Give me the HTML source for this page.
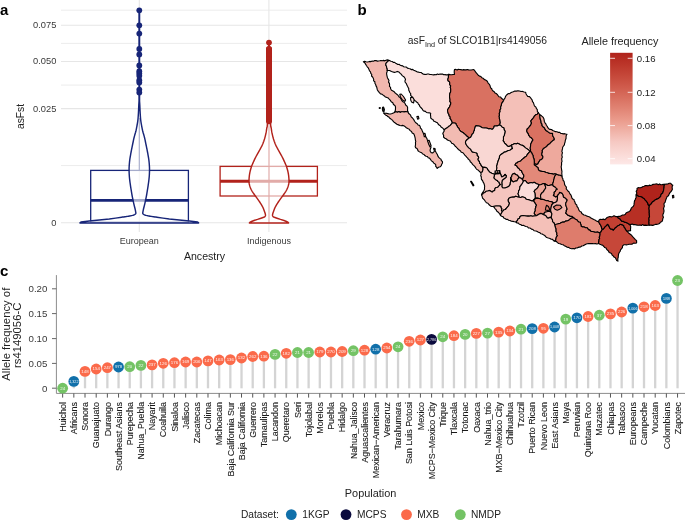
<!DOCTYPE html>
<html><head><meta charset="utf-8"><style>
html,body{margin:0;padding:0;background:#fff;width:685px;height:521px;overflow:hidden}
svg{display:block;font-family:"Liberation Sans",sans-serif;will-change:transform}
</style></head><body>
<svg width="685" height="521" viewBox="0 0 685 521">
<line x1="61" y1="10.2" x2="347" y2="10.2" stroke="#ececec" stroke-width="1"/>
<line x1="61" y1="43.4" x2="347" y2="43.4" stroke="#ececec" stroke-width="1"/>
<line x1="61" y1="85.1" x2="347" y2="85.1" stroke="#ececec" stroke-width="1"/>
<line x1="61" y1="165.6" x2="347" y2="165.6" stroke="#ececec" stroke-width="1"/>
<line x1="61" y1="25.2" x2="347" y2="25.2" stroke="#e6e6e6" stroke-width="1.1"/>
<line x1="61" y1="61.5" x2="347" y2="61.5" stroke="#e6e6e6" stroke-width="1.1"/>
<line x1="61" y1="108.6" x2="347" y2="108.6" stroke="#e6e6e6" stroke-width="1.1"/>
<line x1="61" y1="222.8" x2="347" y2="222.8" stroke="#e6e6e6" stroke-width="1.1"/>
<line x1="139.3" y1="0" x2="139.3" y2="232" stroke="#e6e6e6" stroke-width="1.1"/>
<line x1="268.9" y1="0" x2="268.9" y2="232" stroke="#e6e6e6" stroke-width="1.1"/>
<text x="56.3" y="25.2" text-anchor="end" font-size="9.3" fill="#3a3a3a" dy="2.9">0.075</text>
<text x="56.3" y="61.5" text-anchor="end" font-size="9.3" fill="#3a3a3a" dy="2.9">0.050</text>
<text x="56.3" y="108.6" text-anchor="end" font-size="9.3" fill="#3a3a3a" dy="2.9">0.025</text>
<text x="56.3" y="222.8" text-anchor="end" font-size="9.3" fill="#3a3a3a" dy="2.9">0</text>
<text transform="translate(23.5,116.5) rotate(-90)" text-anchor="middle" font-size="10.3" fill="#222">asFst</text>
<text x="139.3" y="244.2" text-anchor="middle" font-size="9" fill="#3a3a3a">European</text>
<text x="269" y="244.2" text-anchor="middle" font-size="9" fill="#3a3a3a">Indigenous</text>
<text x="204.5" y="259.8" text-anchor="middle" font-size="10.6" fill="#222">Ancestry</text>
<line x1="139.3" y1="118" x2="139.3" y2="170.4" stroke="#172578" stroke-width="1.1"/>
<rect x="90.7" y="170.4" width="97.7" height="51.8" fill="none" stroke="#172578" stroke-width="1.3"/>
<line x1="90.7" y1="200.4" x2="188.4" y2="200.4" stroke="#172578" stroke-width="2.8"/>
<path d="M139.05,10.3 L139.05,13.97 L139.05,18.92 L139.05,25.02 L139.05,32.09 L139.05,40 L139.05,49.76 L139.05,61.49 L139.05,73.63 L139.05,84.65 L139.05,93 L139.05,98.01 L139.05,100.7 L139,102.1 L138.9,103.19 L138.8,105 L138.68,107.63 L138.56,110.42 L138.42,113.18 L138.26,115.77 L138.1,118 L137.92,119.8 L137.73,121.28 L137.53,122.56 L137.32,123.76 L137.1,125 L136.88,126.26 L136.66,127.45 L136.43,128.61 L136.18,129.78 L135.9,131 L135.58,132.25 L135.21,133.52 L134.83,134.8 L134.46,136.13 L134.1,137.5 L133.76,138.94 L133.44,140.45 L133.12,141.99 L132.8,143.52 L132.5,145 L132.21,146.42 L131.92,147.81 L131.64,149.19 L131.37,150.58 L131.1,152 L130.82,153.48 L130.54,155.01 L130.26,156.55 L130.01,158.06 L129.8,159.5 L129.63,160.89 L129.49,162.24 L129.37,163.56 L129.28,164.81 L129.2,166 L129.14,167.08 L129.1,168.06 L129.09,169 L129.09,169.96 L129.1,171 L129.13,172.14 L129.17,173.33 L129.23,174.55 L129.31,175.78 L129.4,177 L129.51,178.2 L129.64,179.4 L129.79,180.6 L129.94,181.8 L130.1,183 L130.27,184.2 L130.44,185.4 L130.62,186.6 L130.81,187.8 L131,189 L131.19,190.22 L131.39,191.45 L131.6,192.67 L131.8,193.86 L132,195 L132.2,196.06 L132.4,197.07 L132.59,198.05 L132.79,199.02 L133,200 L133.22,201.02 L133.44,202.05 L133.66,203.07 L133.88,204.06 L134.1,205 L134.31,205.88 L134.53,206.72 L134.73,207.52 L134.93,208.28 L135.1,209 L135.25,209.69 L135.39,210.35 L135.52,210.96 L135.62,211.52 L135.7,212 L135.77,212.39 L135.82,212.69 L135.86,212.95 L135.85,213.17 L135.8,213.4 L135.71,213.63 L135.59,213.83 L135.42,214.02 L135.2,214.21 L134.9,214.4 L134.54,214.6 L134.13,214.8 L133.65,215 L133.08,215.2 L132.4,215.4 L131.59,215.6 L130.66,215.81 L129.64,216.01 L128.58,216.21 L127.5,216.4 L126.3,216.59 L124.97,216.77 L123.65,216.95 L122.5,217.09 L121.7,217.2 L115.6,218.1 L109.3,219 L99.3,220 L89.3,221 L81,222 L80,222.9 L198.6,222.9 L197.6,222 L189.3,221 L179.3,220 L169.3,219 L163,218.1 L156.9,217.2 L156.1,217.09 L154.95,216.95 L153.63,216.77 L152.3,216.59 L151.1,216.4 L150.02,216.21 L148.96,216.01 L147.94,215.81 L147.01,215.6 L146.2,215.4 L145.52,215.2 L144.95,215 L144.47,214.8 L144.06,214.6 L143.7,214.4 L143.4,214.21 L143.18,214.02 L143.01,213.83 L142.89,213.63 L142.8,213.4 L142.75,213.17 L142.74,212.95 L142.78,212.69 L142.83,212.39 L142.9,212 L142.98,211.52 L143.08,210.96 L143.21,210.35 L143.35,209.69 L143.5,209 L143.67,208.28 L143.87,207.52 L144.07,206.72 L144.29,205.88 L144.5,205 L144.72,204.06 L144.94,203.07 L145.16,202.05 L145.38,201.02 L145.6,200 L145.81,199.02 L146.01,198.05 L146.2,197.07 L146.4,196.06 L146.6,195 L146.8,193.86 L147,192.67 L147.21,191.45 L147.41,190.22 L147.6,189 L147.79,187.8 L147.98,186.6 L148.16,185.4 L148.33,184.2 L148.5,183 L148.66,181.8 L148.81,180.6 L148.96,179.4 L149.09,178.2 L149.2,177 L149.29,175.78 L149.37,174.55 L149.43,173.33 L149.47,172.14 L149.5,171 L149.51,169.96 L149.51,169 L149.5,168.06 L149.46,167.08 L149.4,166 L149.32,164.81 L149.23,163.56 L149.11,162.24 L148.97,160.89 L148.8,159.5 L148.59,158.06 L148.34,156.55 L148.06,155.01 L147.78,153.48 L147.5,152 L147.23,150.58 L146.96,149.19 L146.68,147.81 L146.39,146.42 L146.1,145 L145.8,143.52 L145.48,141.99 L145.16,140.45 L144.84,138.94 L144.5,137.5 L144.14,136.13 L143.77,134.8 L143.39,133.52 L143.02,132.25 L142.7,131 L142.42,129.78 L142.17,128.61 L141.94,127.45 L141.72,126.26 L141.5,125 L141.28,123.76 L141.07,122.56 L140.87,121.28 L140.68,119.8 L140.5,118 L140.34,115.77 L140.18,113.18 L140.04,110.42 L139.92,107.63 L139.8,105 L139.7,103.19 L139.6,102.1 L139.55,100.7 L139.55,98.01 L139.55,93 L139.55,84.65 L139.55,73.63 L139.55,61.49 L139.55,49.76 L139.55,40 L139.55,32.09 L139.55,25.02 L139.55,18.92 L139.55,13.97 L139.55,10.3 Z" fill="#fff" fill-opacity="0.62" stroke="#172578" stroke-width="1.45" stroke-linejoin="round"/>
<circle cx="139.3" cy="10.3" r="2.9" fill="#172578"/>
<circle cx="139.3" cy="25.3" r="2.9" fill="#172578"/>
<circle cx="139.3" cy="33.6" r="2.9" fill="#172578"/>
<circle cx="139.3" cy="48.9" r="2.9" fill="#172578"/>
<circle cx="139.3" cy="54.4" r="2.9" fill="#172578"/>
<circle cx="139.3" cy="65.4" r="2.9" fill="#172578"/>
<circle cx="139.3" cy="71.2" r="2.9" fill="#172578"/>
<circle cx="139.3" cy="73.5" r="2.9" fill="#172578"/>
<circle cx="139.3" cy="75.8" r="2.9" fill="#172578"/>
<circle cx="139.3" cy="80.2" r="2.9" fill="#172578"/>
<circle cx="139.3" cy="82.4" r="2.9" fill="#172578"/>
<circle cx="139.3" cy="89.6" r="2.9" fill="#172578"/>
<circle cx="139.3" cy="92.6" r="2.9" fill="#172578"/>
<line x1="269.0" y1="118" x2="269.0" y2="222.5" stroke="#b2221b" stroke-width="1.1"/>
<rect x="220.1" y="166.4" width="97.3" height="29.6" fill="none" stroke="#b2221b" stroke-width="1.3"/>
<line x1="220.1" y1="181.3" x2="317.4" y2="181.3" stroke="#b2221b" stroke-width="2.9"/>
<path d="M268.75,42.5 L268.75,50.86 L268.75,62.97 L268.75,76.65 L268.64,89.72 L268.5,100 L268.31,107.26 L268.08,112.97 L267.84,117.45 L267.6,121.02 L267.4,124 L267.25,126.06 L267.13,126.99 L267.03,127.29 L266.92,127.46 L266.8,128 L266.66,128.92 L266.53,129.88 L266.38,130.88 L266.21,131.92 L266,133 L265.75,134.14 L265.47,135.35 L265.17,136.59 L264.84,137.82 L264.5,139 L264.14,140.13 L263.77,141.24 L263.38,142.32 L262.96,143.41 L262.5,144.5 L262,145.59 L261.47,146.68 L260.9,147.76 L260.31,148.87 L259.7,150 L259.05,151.17 L258.36,152.36 L257.65,153.58 L256.96,154.79 L256.3,156 L255.68,157.21 L255.07,158.42 L254.49,159.64 L253.93,160.83 L253.4,162 L252.91,163.12 L252.44,164.19 L252,165.25 L251.59,166.34 L251.2,167.5 L250.83,168.72 L250.47,169.99 L250.14,171.29 L249.85,172.63 L249.6,174 L249.39,175.45 L249.22,176.99 L249.09,178.53 L249.01,179.99 L249,181.3 L249.05,182.41 L249.17,183.38 L249.33,184.26 L249.55,185.11 L249.8,186 L250.08,186.9 L250.39,187.77 L250.76,188.64 L251.19,189.54 L251.7,190.5 L252.32,191.53 L253.02,192.6 L253.79,193.72 L254.59,194.85 L255.4,196 L256.24,197.18 L257.14,198.41 L258.04,199.65 L258.91,200.86 L259.7,202 L260.4,203.08 L261.06,204.11 L261.66,205.1 L262.2,206.06 L262.7,207 L263.14,207.93 L263.51,208.85 L263.84,209.73 L264.13,210.55 L264.4,211.3 L264.64,211.96 L264.86,212.54 L265.04,213.06 L265.18,213.54 L265.3,214 L265.39,214.43 L265.45,214.81 L265.48,215.17 L265.46,215.49 L265.4,215.8 L265.25,216.1 L265.03,216.38 L264.78,216.64 L264.55,216.85 L264.4,217 L261,218.2 L257.5,219.4 L254,220.5 L251.5,221.5 L249.8,222.4 L249.4,222.9 L288.6,222.9 L288.2,222.4 L286.5,221.5 L284,220.5 L280.5,219.4 L277,218.2 L273.6,217 L273.45,216.85 L273.22,216.64 L272.97,216.38 L272.75,216.1 L272.6,215.8 L272.54,215.49 L272.52,215.17 L272.55,214.81 L272.61,214.43 L272.7,214 L272.82,213.54 L272.96,213.06 L273.14,212.54 L273.36,211.96 L273.6,211.3 L273.87,210.55 L274.16,209.73 L274.49,208.85 L274.86,207.93 L275.3,207 L275.8,206.06 L276.34,205.1 L276.94,204.11 L277.6,203.08 L278.3,202 L279.09,200.86 L279.96,199.65 L280.86,198.41 L281.76,197.18 L282.6,196 L283.41,194.85 L284.21,193.72 L284.98,192.6 L285.68,191.53 L286.3,190.5 L286.81,189.54 L287.24,188.64 L287.61,187.77 L287.92,186.9 L288.2,186 L288.45,185.11 L288.67,184.26 L288.83,183.38 L288.95,182.41 L289,181.3 L288.99,179.99 L288.91,178.53 L288.78,176.99 L288.61,175.45 L288.4,174 L288.15,172.63 L287.86,171.29 L287.53,169.99 L287.17,168.72 L286.8,167.5 L286.41,166.34 L286,165.25 L285.56,164.19 L285.09,163.12 L284.6,162 L284.07,160.83 L283.51,159.64 L282.93,158.42 L282.32,157.21 L281.7,156 L281.04,154.79 L280.35,153.58 L279.64,152.36 L278.95,151.17 L278.3,150 L277.69,148.87 L277.1,147.76 L276.53,146.68 L276,145.59 L275.5,144.5 L275.04,143.41 L274.62,142.32 L274.23,141.24 L273.86,140.13 L273.5,139 L273.16,137.82 L272.83,136.59 L272.53,135.35 L272.25,134.14 L272,133 L271.79,131.92 L271.62,130.88 L271.47,129.88 L271.34,128.92 L271.2,128 L271.08,127.46 L270.97,127.29 L270.87,126.99 L270.75,126.06 L270.6,124 L270.4,121.02 L270.16,117.45 L269.92,112.97 L269.69,107.26 L269.5,100 L269.36,89.72 L269.25,76.65 L269.25,62.97 L269.25,50.86 L269.25,42.5 Z" fill="#fff" fill-opacity="0.62" stroke="#b2221b" stroke-width="1.45" stroke-linejoin="round"/>
<circle cx="269.0" cy="42.6" r="2.9" fill="#b2221b"/>
<rect x="266" y="46.2" width="6" height="78" rx="3" fill="#b2221b"/>
<circle cx="269.0" cy="49" r="3.0" fill="#b2221b"/>
<circle cx="269.0" cy="52" r="3.0" fill="#b2221b"/>
<circle cx="269.0" cy="55.5" r="3.0" fill="#b2221b"/>
<circle cx="269.0" cy="59" r="3.0" fill="#b2221b"/>
<circle cx="269.0" cy="62.5" r="3.0" fill="#b2221b"/>
<circle cx="269.0" cy="66" r="3.0" fill="#b2221b"/>
<text x="0" y="15" font-size="15" font-weight="bold" fill="#000">a</text>
<text x="357.5" y="15" font-size="15" font-weight="bold" fill="#000">b</text>
<text x="407.8" y="44.2" font-size="10.3" fill="#222">asF<tspan font-size="7.2" dy="2.6">Ind</tspan><tspan dy="-2.6"> of SLCO1B1|rs4149056</tspan></text>
<text x="581.5" y="45" font-size="10.8" fill="#222">Allele frequency</text>
<defs><linearGradient id="lg" x1="0" y1="1" x2="0" y2="0">
<stop offset="0" stop-color="#fde8e7"/>
<stop offset="0.1" stop-color="#fad9d5"/>
<stop offset="0.2" stop-color="#f6c9c3"/>
<stop offset="0.3" stop-color="#f0b2a7"/>
<stop offset="0.4" stop-color="#ea9a8b"/>
<stop offset="0.5" stop-color="#e18474"/>
<stop offset="0.6" stop-color="#d86f5f"/>
<stop offset="0.7" stop-color="#cf5a4b"/>
<stop offset="0.8" stop-color="#c54739"/>
<stop offset="0.9" stop-color="#bb3529"/>
<stop offset="1" stop-color="#b0231b"/>
</linearGradient></defs>
<rect x="610.1" y="52.8" width="22.5" height="111.6" fill="url(#lg)"/>
<line x1="610.1" y1="58.3" x2="615" y2="58.3" stroke="#fff" stroke-opacity="0.8" stroke-width="1"/>
<line x1="627.7" y1="58.3" x2="632.6" y2="58.3" stroke="#fff" stroke-opacity="0.8" stroke-width="1"/>
<text x="636.8" y="58.3" font-size="9.6" fill="#222" dy="3.4">0.16</text>
<line x1="610.1" y1="92.3" x2="615" y2="92.3" stroke="#fff" stroke-opacity="0.8" stroke-width="1"/>
<line x1="627.7" y1="92.3" x2="632.6" y2="92.3" stroke="#fff" stroke-opacity="0.8" stroke-width="1"/>
<text x="636.8" y="92.3" font-size="9.6" fill="#222" dy="3.4">0.12</text>
<line x1="610.1" y1="125.6" x2="615" y2="125.6" stroke="#fff" stroke-opacity="0.8" stroke-width="1"/>
<line x1="627.7" y1="125.6" x2="632.6" y2="125.6" stroke="#fff" stroke-opacity="0.8" stroke-width="1"/>
<text x="636.8" y="125.6" font-size="9.6" fill="#222" dy="3.4">0.08</text>
<line x1="610.1" y1="158.7" x2="615" y2="158.7" stroke="#fff" stroke-opacity="0.8" stroke-width="1"/>
<line x1="627.7" y1="158.7" x2="632.6" y2="158.7" stroke="#fff" stroke-opacity="0.8" stroke-width="1"/>
<text x="636.8" y="158.7" font-size="9.6" fill="#222" dy="3.4">0.04</text>
<path d="M363.4,61.7 L364.64,61.2 L365.93,61.77 L367.21,61.95 L368.46,61.74 L369.7,61.43 L370.98,61.58 L372.22,61.13 L373.49,61.27 L374.71,60.58 L375.97,60.55 L377.27,61.12 L378.53,60.95 L379.78,60.78 L381.03,60.47 L382.3,60.68 L383.55,60.4 L384.84,60.86 L386.07,60.25 L387.31,59.88 L388.6,60.3 L387.8,61.64 L386.5,62.5 L385.88,63.68 L385.8,65 L386.48,66.22 L386.7,67.6 L387.29,68.99 L387.2,70.5 L387.13,71.78 L386.58,73 L386.7,74.3 L386.93,75.54 L387.22,76.77 L387.54,77.99 L388.2,79.1 L389,80.44 L388.51,82.09 L389.41,83.41 L389.6,84.9 L389.45,86.29 L390.55,87.36 L390.6,88.7 L391.48,90.18 L393,91 L394.12,91.66 L394.9,92.7 L396.01,93.59 L397.09,94.51 L398.15,95.45 L398.9,96.7 L400.13,97.57 L400.86,98.84 L401.6,100.1 L402.49,101.45 L403.95,102.21 L405,103.4 L405.67,105 L407,106.1 L407.61,107.38 L407.6,108.8 L407.53,110.38 L408,111.9 L406.69,111.76 L405.38,111.61 L404.07,111.83 L402.76,111.78 L401.45,111.79 L400.14,112.38 L398.83,111.46 L397.52,112.19 L396.21,111.82 L394.9,111.9 L395.4,110 L395.5,108.2 L395.5,106.78 L394.9,105.5 L393.46,104.45 L392.8,102.8 L391.2,101.74 L390.2,100.1 L389.18,99.06 L388.19,97.97 L386.8,97.4 L385.47,97.06 L384.56,96.01 L383.4,95.4 L382.18,94.33 L380.52,93.91 L379.4,92.7 L378.36,91.38 L377.4,90 L377.05,88.59 L376.75,87.15 L376,85.88 L375.64,84.47 L374.9,83.2 L374.89,81.79 L373.6,80.86 L373.7,79.41 L373.24,78.17 L372.6,77 L371.55,76 L371.75,74.36 L370.79,73.32 L370.55,71.9 L369.5,70.9 L369.02,69.38 L368.31,67.99 L367.24,66.81 L366.4,65.5 L365.56,64.11 L364.72,62.71 L363.4,61.7 Z" fill="#f1b7ae" stroke="#000" stroke-width="1.12" stroke-linejoin="round"/>
<path d="M408,111.9 L406.69,111.76 L405.38,111.61 L404.07,111.83 L402.76,111.78 L401.45,111.79 L400.14,112.38 L398.83,111.46 L397.52,112.19 L396.21,111.82 L394.9,111.9 L394.5,112.6 L392.2,113.5 L390.53,113.99 L388.8,113.9 L387.12,113.43 L385.4,113.2 L383.4,112.9 L384.39,113.91 L385.4,114.9 L386.62,115.42 L387.57,116.39 L388.8,116.9 L389.49,118.01 L390.59,118.71 L391.5,119.6 L392.6,120.3 L393.25,121.45 L394.2,122.3 L395.62,123.21 L396.9,124.3 L398.46,124.88 L400,125.5 L401.26,125.75 L402.55,125.4 L403.8,125.7 L405.11,126.65 L406.32,127.74 L407.7,128.6 L409.24,129.21 L410.14,130.65 L411.5,131.5 L412.2,132.97 L413.71,133.82 L414.4,135.3 L414.87,136.87 L415.21,138.47 L415.4,140.1 L415.78,141.39 L415.46,142.66 L415.57,143.95 L415.43,145.23 L415.2,146.5 L415.64,147.72 L416.89,148.41 L417.59,149.46 L418,150.7 L419.12,151.63 L420.37,152.33 L421.75,152.84 L422.7,154.02 L424.1,154.5 L424.88,155.61 L426.03,156.25 L427.44,156.53 L428.16,157.73 L429.5,158.11 L430.3,159.2 L431.06,160.28 L431.96,161.22 L433.09,161.93 L433.75,163.11 L434.9,163.8 L435.8,164.79 L435.68,166.29 L436.64,167.24 L437.2,168.4 L438.51,167.24 L440.2,166.8 L441.27,165.71 L441.69,164.24 L442.5,163 L442.46,161.55 L441.34,160.53 L441,159.2 L439.78,158.35 L438.77,157.3 L437.9,156.1 L437.34,154.46 L436.4,153 L435.77,151.77 L434.9,150.7 L433.82,151.92 L432.6,153 L431.19,152.65 L430.3,151.5 L430.06,150.11 L430.42,148.84 L431,147.6 L430.66,146.18 L429.8,145 L429.04,143.75 L428.62,142.32 L427.8,141.1 L427.29,139.74 L426.86,138.34 L425.9,137.2 L425.29,135.53 L424,134.3 L423.22,133.1 L422.66,131.8 L422.1,130.5 L421.6,129.17 L420.47,128.15 L420.2,126.7 L419.59,125.38 L418.07,124.97 L417.3,123.8 L416.18,122.99 L415.2,122.04 L414.4,120.9 L413.59,119.36 L412.5,118 L411.19,116.84 L410.6,115.2 L409.6,114.2 L408.5,113.26 L408,111.9 Z" fill="#f1b7ae" stroke="#000" stroke-width="1.12" stroke-linejoin="round"/>
<path d="M388.6,60.3 L389.82,60.66 L390.94,61.25 L392.19,61.56 L393.24,62.33 L394.61,62.31 L395.62,63.2 L396.73,63.83 L397.8,64.55 L399.27,64.29 L400.25,65.24 L401.44,65.68 L402.75,65.82 L403.71,66.81 L405,67 L406.39,67.06 L407.43,68.12 L408.7,68.52 L410.01,68.8 L411.15,69.57 L412.64,69.38 L413.75,70.2 L414.99,70.71 L416.16,71.36 L417.34,72.03 L418.7,72.18 L420,72.5 L421.37,72.55 L422.35,73.56 L423.46,74.29 L424.8,74.4 L426.06,74.48 L427.33,73.97 L428.59,74.04 L429.85,74.49 L431.12,74.53 L432.38,74.74 L433.64,74.85 L434.91,74.66 L436.17,74.75 L437.43,73.96 L438.69,74.51 L439.96,74.04 L441.22,74.11 L442.48,74.07 L443.75,74.81 L445.01,74.61 L446.27,74.87 L447.54,74.86 L448.8,74.4 L448.45,76 L448.43,77.66 L447.8,79.2 L448.06,80.68 L449.37,81.61 L449.8,83 L449.64,84.51 L450.71,85.83 L450.26,87.38 L450.7,88.8 L450.7,90.46 L450.59,92.09 L449.8,93.6 L449.65,95.2 L449.5,96.8 L449.8,98.4 L450.08,99.82 L449.85,101.31 L450.76,102.63 L450.7,104.1 L450.01,105.51 L449.5,107 L448.4,108.43 L447.5,110 L447.72,111.63 L448.15,113.18 L449,114.6 L449.14,115.93 L450.24,116.89 L450.02,118.36 L450.9,119.4 L451.7,121.08 L452.4,122.8 L450.9,124.7 L450.02,125.6 L448.98,126.31 L448,127.1 L446.77,128.11 L445.3,128.82 L444.2,130 L443.2,128.6 L442.19,127.68 L441.03,126.91 L440.3,125.7 L439.08,124.98 L438.11,124.02 L437.4,122.8 L436.13,122.16 L434.88,121.52 L433.6,120.9 L432.95,119.62 L431.68,118.95 L430.7,118 L430.7,116.4 L430.45,114.8 L430.7,113.2 L429.27,112.82 L427.8,112.8 L426.45,112.51 L425.51,111.38 L424.12,111.17 L423,110.4 L422.3,109.09 L421.3,108 L419.99,106.71 L419.3,105 L418.35,104.05 L417.77,102.75 L416.5,102.1 L415.7,100.99 L414.39,100.41 L413.6,99.3 L412.47,97.97 L411.7,96.4 L410.62,95.32 L410.73,93.66 L409.8,92.5 L409.31,91.27 L408.7,90.08 L408.8,88.7 L408.15,87.44 L407.5,86.19 L406.9,84.9 L406.16,83.31 L405,82 L405.02,80.73 L405.49,79.47 L405,78.2 L404.2,77 L403,76.2 L402.01,75.32 L401.27,74.2 L400.2,73.4 L398.98,72.06 L397.3,71.4 L395.89,72.03 L394.4,72.4 L392.95,71.94 L391.5,71.5 L389.6,70.5 L387.2,70.5 L387.29,68.99 L386.7,67.6 L386.48,66.22 L385.8,65 L385.88,63.68 L386.5,62.5 L387.8,61.64 L388.6,60.3 Z" fill="#fbdedb" stroke="#000" stroke-width="1.12" stroke-linejoin="round"/>
<path d="M448.8,74.4 L450.23,74.66 L451.65,74.76 L453.07,74.47 L454.5,74.4 L454.26,72.8 L454.23,71.2 L454.5,69.6 L455.79,69.38 L457.07,70.09 L458.36,69.3 L459.65,69.52 L460.93,69.6 L462.22,69.96 L463.51,69.65 L464.79,69.88 L466.08,69.89 L467.37,69.53 L468.65,69.89 L469.94,69.98 L471.23,69.96 L472.51,69.71 L473.8,69.6 L474.78,70.66 L475.51,71.94 L476.45,73.02 L477.35,74.15 L478.26,75.27 L479.5,76.1 L480.93,76.55 L481.81,77.77 L483.18,78.29 L484.15,79.38 L485.51,79.93 L486.71,80.7 L487.6,81.9 L488.09,83.15 L489.16,84.08 L489.87,85.2 L490.27,86.5 L490.7,87.79 L491.73,88.73 L492.2,90 L493.08,91.01 L494.24,91.72 L494.97,92.89 L496.21,93.51 L497.22,94.39 L498,95.5 L498.91,96.74 L500.59,97.05 L501.48,98.31 L502.68,99.2 L503.7,100.3 L503.1,101.61 L502.16,102.72 L501.5,104 L501.39,105.58 L500.63,106.98 L500.78,108.63 L499.9,110 L500.2,111.28 L499.6,112.49 L499.27,113.72 L499.5,115 L499.17,116.28 L499.4,117.52 L499.4,118.78 L499.9,120 L500.08,121.26 L500.27,122.52 L500.03,123.76 L499.7,125 L498.6,125.2 L497.25,125.9 L495.79,126.03 L494.3,126 L493.73,127.75 L492.6,129.2 L491.25,129.1 L490,128.6 L488.6,128.86 L487.32,128.28 L486,128 L484.14,128 L482.3,127.7 L481.09,127 L479.9,126.27 L478.5,126 L476.1,125.6 L475.27,126.59 L474.98,127.84 L474.5,129 L474.43,130.34 L473.68,131.49 L473.5,132.8 L472.26,134.09 L471.5,135.7 L470.64,137.24 L469.1,138.1 L467.81,136.77 L466.3,135.7 L465.47,134.6 L464.29,133.84 L463.4,132.8 L461.98,132.04 L460.58,131.24 L459.5,130 L458.88,128.33 L457.6,127.1 L456.98,125.8 L456.21,124.56 L455.7,123.2 L454.05,123.01 L452.4,122.8 L451.7,121.08 L450.9,119.4 L450.02,118.36 L450.24,116.89 L449.14,115.93 L449,114.6 L448.15,113.18 L447.72,111.63 L447.5,110 L448.4,108.43 L449.5,107 L450.01,105.51 L450.7,104.1 L450.76,102.63 L449.85,101.31 L450.08,99.82 L449.8,98.4 L449.5,96.8 L449.65,95.2 L449.8,93.6 L450.59,92.09 L450.7,90.46 L450.7,88.8 L450.26,87.38 L450.71,85.83 L449.64,84.51 L449.8,83 L449.37,81.61 L448.06,80.68 L447.8,79.2 L448.43,77.66 L448.45,76 L448.8,74.4 Z" fill="#d97161" stroke="#000" stroke-width="1.12" stroke-linejoin="round"/>
<path d="M503.7,100.3 L504.21,99.03 L505.09,97.98 L505.44,96.6 L506.17,95.46 L507.2,94.5 L508.19,93.6 L509.68,93.71 L510.65,92.78 L511.8,92.2 L513.32,91.77 L514.77,91.06 L516.4,91.1 L517.97,90.81 L519.5,90.96 L521,91.5 L522.58,91.43 L524.07,91.94 L525.6,92.2 L525.97,93.67 L526.7,95 L527.7,96.37 L529.52,96.64 L530.6,97.9 L531.44,99.02 L532.2,100.18 L532.48,101.63 L533.4,102.7 L533.79,103.94 L534.18,105.17 L534.79,106.3 L535.96,107.14 L536.3,108.4 L537.31,109.6 L537.32,111.28 L538.3,112.5 L537.3,114.2 L535.64,114.83 L534.4,116.1 L533.58,117.64 L532.5,119 L531.56,119.92 L530.8,121 L531.5,123 L531.01,124.27 L530.44,125.49 L529.5,126.5 L528.44,127.83 L527.2,129 L526.7,130.8 L527.25,132.34 L528.3,133.6 L528.55,134.89 L529.33,135.92 L530,137 L531.26,137.74 L532.22,138.78 L533,140 L532.14,141.18 L531.5,142.5 L530.67,144.15 L530.6,146 L530.31,147.29 L530.24,148.59 L530.64,149.92 L530.3,151.2 L529.04,150.44 L528,149.4 L526.75,148.65 L525.51,147.87 L524.5,146.8 L523.48,145.99 L522.36,145.36 L521.1,145 L519.93,144.44 L518.77,143.86 L517.6,143.3 L516.22,143.87 L514.65,143.48 L513.3,144.2 L511.6,145 L510.21,146.09 L508.5,146.5 L507.3,145.9 L506.15,144.45 L504.7,143.3 L504,141.9 L503,140.7 L503.5,139.45 L503.44,138.06 L503.43,136.69 L504.2,135.5 L504.57,134.08 L504.85,132.64 L505.1,131.2 L504.12,129.63 L503.8,127.8 L502.18,127.24 L501.12,125.86 L499.7,125 L500.03,123.76 L500.27,122.52 L500.08,121.26 L499.9,120 L499.4,118.78 L499.4,117.52 L499.17,116.28 L499.5,115 L499.27,113.72 L499.6,112.49 L500.2,111.28 L499.9,110 L500.78,108.63 L500.63,106.98 L501.39,105.58 L501.5,104 L502.16,102.72 L503.1,101.61 L503.7,100.3 Z" fill="#f4c0b8" stroke="#000" stroke-width="1.12" stroke-linejoin="round"/>
<path d="M538.3,112.5 L539.6,114.5 L539.81,116 L540.02,117.5 L540.2,119 L540.69,120.22 L541.02,121.48 L541.1,122.8 L542,123.97 L542.04,125.56 L543,126.7 L544.33,127.69 L545.06,129.14 L545.9,130.5 L547.41,131.35 L548.8,132.4 L550,132.97 L551.25,133.39 L552.6,133.4 L552.57,134.76 L552.84,136.05 L553.6,137.2 L554.26,138.42 L554.3,139.8 L552.89,140.58 L551.72,141.68 L550.5,142.7 L549.71,143.81 L548.47,144.47 L547.45,145.35 L546.7,146.5 L545.32,147.36 L543.98,148.28 L542.8,149.4 L542.22,150.6 L542.4,151.98 L541.9,153.2 L541.81,154.87 L542.88,156.33 L542.8,158 L541.69,159.41 L540,160 L539.37,161.29 L538.49,162.44 L538,163.8 L536.83,164.49 L535.35,164.01 L534.2,164.8 L534.28,163.2 L534.26,161.6 L534.2,160 L533.83,158.52 L533.19,157.12 L533.06,155.56 L532.3,154.2 L531.52,152.55 L530.3,151.2 L530.64,149.92 L530.24,148.59 L530.31,147.29 L530.6,146 L530.67,144.15 L531.5,142.5 L532.14,141.18 L533,140 L532.22,138.78 L531.26,137.74 L530,137 L529.33,135.92 L528.55,134.89 L528.3,133.6 L527.25,132.34 L526.7,130.8 L527.2,129 L528.44,127.83 L529.5,126.5 L530.44,125.49 L531.01,124.27 L531.5,123 L530.8,121 L531.56,119.92 L532.5,119 L533.58,117.64 L534.4,116.1 L535.64,114.83 L537.3,114.2 L538.3,112.5 Z" fill="#d97161" stroke="#000" stroke-width="1.12" stroke-linejoin="round"/>
<path d="M539.6,114.5 L541.5,115.8 L543,117.1 L543.78,118.43 L544.15,119.9 L544.33,121.44 L545,122.8 L545.88,123.89 L546.36,125.23 L547.24,126.32 L547.8,127.6 L548.77,128.7 L549.98,129.41 L551.56,129.51 L552.6,130.5 L554.03,131.04 L555.43,131.67 L556.99,131.8 L558.4,132.4 L559.73,132.37 L560.75,133.32 L562.02,133.47 L563.2,133.9 L564.51,133.67 L565.75,134 L567,134.3 L566.24,135.49 L566.04,136.82 L566.1,138.2 L565.65,139.44 L565.25,140.69 L565.1,142 L564.6,143.35 L564.38,144.81 L563.5,146 L562.65,147.2 L562.51,148.63 L562.2,150 L561.85,151.39 L562.44,152.82 L562,154.2 L561.88,155.65 L562.32,157.11 L561.67,158.54 L561.8,160 L562.05,161.37 L561.51,162.69 L561.63,164.05 L561.5,165.4 L561.16,166.94 L561.47,168.47 L561.6,170 L561.97,171.24 L561.85,172.51 L561.8,173.78 L561.97,175.04 L562,176.3 L560.1,175.3 L558.75,175.28 L557.55,174.71 L556.3,174.3 L554.85,173.82 L553.4,174.3 L551.87,173.62 L550.25,173.44 L548.6,173.4 L547.49,172.69 L546.15,172.56 L544.99,171.99 L543.8,171.5 L542.16,171.37 L540.54,171.11 L539,170.5 L538.22,169.15 L538,167.6 L536.67,166.76 L535.51,165.68 L534.2,164.8 L535.35,164.01 L536.83,164.49 L538,163.8 L538.49,162.44 L539.37,161.29 L540,160 L541.69,159.41 L542.8,158 L542.88,156.33 L541.81,154.87 L541.9,153.2 L542.4,151.98 L542.22,150.6 L542.8,149.4 L543.98,148.28 L545.32,147.36 L546.7,146.5 L547.45,145.35 L548.47,144.47 L549.71,143.81 L550.5,142.7 L551.72,141.68 L552.89,140.58 L554.3,139.8 L554.26,138.42 L553.6,137.2 L552.84,136.05 L552.57,134.76 L552.6,133.4 L551.25,133.39 L550,132.97 L548.8,132.4 L547.41,131.35 L545.9,130.5 L545.06,129.14 L544.33,127.69 L543,126.7 L542.04,125.56 L542,123.97 L541.1,122.8 L541.02,121.48 L540.69,120.22 L540.2,119 L540.02,117.5 L539.81,116 L539.6,114.5 Z" fill="#eea99d" stroke="#000" stroke-width="1.12" stroke-linejoin="round"/>
<path d="M444.2,130 L445.3,128.82 L446.77,128.11 L448,127.1 L448.98,126.31 L450.02,125.6 L450.9,124.7 L452.4,122.8 L454.05,123.01 L455.7,123.2 L456.21,124.56 L456.98,125.8 L457.6,127.1 L458.88,128.33 L459.5,130 L460.58,131.24 L461.98,132.04 L463.4,132.8 L464.29,133.84 L465.47,134.6 L466.3,135.7 L467.81,136.77 L469.1,138.1 L467.61,139.2 L466.3,140.5 L465.53,141.63 L465.5,143 L466.5,145 L467.34,146.09 L468.21,147.14 L469.2,148.1 L470.55,149.11 L471.29,150.61 L472.3,151.9 L473.56,152.22 L474.81,152.54 L476.1,152.7 L477.26,153.73 L477.27,155.46 L478.4,156.5 L478.77,157.8 L478.04,159.1 L478.4,160.4 L479.46,161.49 L479.72,163.06 L480.7,164.2 L481.21,165.42 L481.97,166.46 L483,167.3 L483,169.6 L482.3,171.9 L480.7,172.6 L479,171 L478.14,170.03 L476.86,169.48 L476.01,168.5 L475.4,167.3 L474.48,166.1 L473.36,165.07 L472.29,164 L471.5,162.7 L470.26,161.79 L469.76,160.27 L468.47,159.4 L467.7,158.1 L466.66,157.18 L465.84,156.06 L464.79,155.15 L464,154 L463,152.81 L461.39,152.33 L460.5,151 L459.5,150.16 L458.4,149.45 L457.5,148.5 L456.34,147.16 L455,146 L454.21,144.79 L453.16,143.84 L451.69,143.31 L451,142 L450.07,140.95 L448.69,140.58 L447.44,140.03 L446.5,139 L444.85,138.23 L443.5,137 L443.63,135.3 L442.8,133.8 L443.26,132.53 L444.05,131.38 L444.2,130 Z" fill="#f2bbb2" stroke="#000" stroke-width="1.12" stroke-linejoin="round"/>
<path d="M499.7,125 L498.6,125.2 L497.25,125.9 L495.79,126.03 L494.3,126 L493.73,127.75 L492.6,129.2 L491.25,129.1 L490,128.6 L488.6,128.86 L487.32,128.28 L486,128 L484.14,128 L482.3,127.7 L481.09,127 L479.9,126.27 L478.5,126 L476.1,125.6 L475.27,126.59 L474.98,127.84 L474.5,129 L474.43,130.34 L473.68,131.49 L473.5,132.8 L472.26,134.09 L471.5,135.7 L470.64,137.24 L469.1,138.1 L467.61,139.2 L466.3,140.5 L465.53,141.63 L465.5,143 L466.5,145 L467.34,146.09 L468.21,147.14 L469.2,148.1 L470.55,149.11 L471.29,150.61 L472.3,151.9 L473.56,152.22 L474.81,152.54 L476.1,152.7 L477.26,153.73 L477.27,155.46 L478.4,156.5 L478.77,157.8 L478.04,159.1 L478.4,160.4 L479.46,161.49 L479.72,163.06 L480.7,164.2 L481.21,165.42 L481.97,166.46 L483,167.3 L484.56,167.35 L486.1,167.6 L487.17,168.36 L487.6,169.6 L488.5,170.5 L489.26,171.79 L490.43,172.6 L491.7,173.3 L493.11,173.73 L494.5,174.2 L496.11,173.55 L497.5,172.5 L496.85,171.1 L496.5,169.6 L496.94,167.81 L496.6,166 L497.16,164.86 L497.3,163.6 L497.72,162.3 L498.15,160.99 L498.6,159.7 L499.41,158.09 L499.5,156.3 L500.58,154.78 L502.1,153.7 L503.18,153.03 L504.15,152.14 L505.5,152 L506.89,151.21 L508.29,150.45 L509.9,150.2 L511.18,149.32 L512.5,148.5 L511.88,146.79 L511.6,145 L510.21,146.09 L508.5,146.5 L507.3,145.9 L506.15,144.45 L504.7,143.3 L504,141.9 L503,140.7 L503.5,139.45 L503.44,138.06 L503.43,136.69 L504.2,135.5 L504.57,134.08 L504.85,132.64 L505.1,131.2 L504.12,129.63 L503.8,127.8 L502.18,127.24 L501.12,125.86 L499.7,125 Z" fill="#f9d7d3" stroke="#000" stroke-width="1.12" stroke-linejoin="round"/>
<path d="M483,167.3 L483,169.6 L482.3,171.9 L480.7,172.6 L481.17,174.15 L480.7,175.7 L481.35,176.89 L481.27,178.23 L481.5,179.5 L482.53,180.52 L483,181.9 L483.95,183.34 L484.4,185 L484.68,186.24 L484.5,187.5 L484.55,189.19 L483.8,190.7 L482.92,192.11 L482,193.5 L481.5,194.7 L482.68,194.06 L483.5,193 L484.95,192.45 L486,191.3 L487.8,191.04 L489.5,190.4 L490.83,191.21 L492.1,192.1 L493.26,191.03 L494.7,190.4 L494.84,189.02 L495.5,187.8 L496.85,187.56 L498.1,187 L499.23,185.53 L500.7,184.4 L499.49,183.79 L499.2,182.32 L498.1,181.6 L497.16,180.4 L495.8,179.7 L494.87,178.83 L494,177.9 L494.34,176.31 L494.5,174.7 L496.04,173.66 L497.5,172.5 L496.11,173.55 L494.5,174.2 L493.11,173.73 L491.7,173.3 L490.43,172.6 L489.26,171.79 L488.5,170.5 L487.6,169.6 L487.17,168.36 L486.1,167.6 L484.56,167.35 L483,167.3 Z" fill="#f6c9c3" stroke="#000" stroke-width="1.12" stroke-linejoin="round"/>
<path d="M497.5,172.5 L496.85,171.1 L496.5,169.6 L496.94,167.81 L496.6,166 L497.16,164.86 L497.3,163.6 L497.72,162.3 L498.15,160.99 L498.6,159.7 L499.41,158.09 L499.5,156.3 L500.58,154.78 L502.1,153.7 L503.18,153.03 L504.15,152.14 L505.5,152 L506.89,151.21 L508.29,150.45 L509.9,150.2 L511.18,149.32 L512.5,148.5 L511.88,146.79 L511.6,145 L513.3,144.2 L514.65,143.48 L516.22,143.87 L517.6,143.3 L518.77,143.86 L519.93,144.44 L521.1,145 L522.36,145.36 L523.48,145.99 L524.5,146.8 L525.51,147.87 L526.75,148.65 L528,149.4 L529.04,150.44 L530.3,151.2 L529.13,152.43 L528,153.7 L527.08,154.95 L526.3,156.3 L525.04,157.04 L523.91,157.96 L522.8,158.9 L521.67,159.77 L520.76,160.92 L519.4,161.5 L518.1,161.8 L517.18,162.87 L515.9,163.2 L515,165 L516.9,166 L517.57,167.57 L519,168.5 L519.93,169.99 L521.5,170.8 L522.16,172.44 L523,174 L523.78,175.13 L523.8,176.5 L523.15,178 L522.5,179.5 L521,178.3 L519.1,177.4 L518.07,176.18 L517,175 L515.56,174.5 L514.5,173.4 L513.03,173.85 L512,175 L511.68,176.72 L510.5,178 L510.66,179.5 L510.8,181 L510.32,182.67 L510.2,184.4 L509.15,185.95 L507.6,187 L506.3,187.51 L505,188 L503.74,188 L502.5,187.8 L501.82,186.37 L502,184.8 L501.8,182.5 L502.3,180.2 L504.1,178.8 L506,177.4 L506.4,175.6 L505,174.7 L503.7,176.1 L501.8,177 L500.9,175.1 L500.4,173.3 L498.88,173.17 L497.5,172.5 Z" fill="#f6c9c3" stroke="#000" stroke-width="1.12" stroke-linejoin="round"/>
<path d="M510.5,178 L511.68,176.72 L512,175 L513.03,173.85 L514.5,173.4 L515.56,174.5 L517,175 L518.07,176.18 L519.1,177.4 L518.27,178.53 L517.59,179.75 L516.8,180.9 L514.99,181.12 L513.4,182 L511.5,180.5 L511.38,179.1 L510.5,178 Z" fill="#eda699" stroke="#000" stroke-width="1.12" stroke-linejoin="round"/>
<path d="M481.5,194.7 L482.68,194.06 L483.5,193 L484.95,192.45 L486,191.3 L487.8,191.04 L489.5,190.4 L490.83,191.21 L492.1,192.1 L493.26,191.03 L494.7,190.4 L494.84,189.02 L495.5,187.8 L496.85,187.56 L498.1,187 L499.23,185.53 L500.7,184.4 L499.49,183.79 L499.2,182.32 L498.1,181.6 L497.16,180.4 L495.8,179.7 L494.87,178.83 L494,177.9 L494.34,176.31 L494.5,174.7 L496.04,173.66 L497.5,172.5 L498.88,173.17 L500.4,173.3 L500.9,175.1 L501.8,177 L503.7,176.1 L505,174.7 L506.4,175.6 L506,177.4 L504.1,178.8 L502.3,180.2 L501.8,182.5 L502,184.8 L501.82,186.37 L502.5,187.8 L503.74,188 L505,188 L506.3,187.51 L507.6,187 L509.15,185.95 L510.2,184.4 L510.32,182.67 L510.8,181 L510.66,179.5 L510.5,178 L511.38,179.1 L511.5,180.5 L513.4,182 L514.99,181.12 L516.8,180.9 L517.59,179.75 L518.27,178.53 L519.1,177.4 L521,178.3 L522.5,179.5 L523.5,181 L522.94,182.26 L522.3,183.47 L521.5,184.6 L520.78,185.66 L519.96,186.66 L519.8,188 L519.61,189.53 L518.52,190.78 L518.59,192.39 L518,193.8 L518.85,195.41 L519.2,197.2 L517.43,196.84 L515.7,196.3 L514.38,197.08 L512.87,197.04 L511.42,197.26 L510,197.6 L508.71,198.51 L508.2,200 L508.45,201.67 L509.5,203 L508.8,205.3 L508.07,206.47 L507.12,207.46 L506.25,208.51 L505.3,209.5 L503.94,209.74 L503.13,210.88 L502,211.5 L501.36,210.31 L501.83,208.85 L500.97,207.71 L500.8,206.4 L499.22,206.04 L497.61,206.05 L496,206 L494.49,206.22 L493,206.5 L491.35,206.45 L490,205.5 L488.84,204.51 L487.98,203.18 L486.38,202.7 L485.4,201.5 L484.64,200.16 L483.58,199.07 L482.5,198 L482.13,196.31 L481.5,194.7 Z" fill="#f5c5bf" stroke="#000" stroke-width="1.12" stroke-linejoin="round"/>
<path d="M522.5,179.5 L523.15,178 L523.8,176.5 L523.78,175.13 L523,174 L522.16,172.44 L521.5,170.8 L519.93,169.99 L519,168.5 L517.57,167.57 L516.9,166 L515,165 L515.9,163.2 L517.18,162.87 L518.1,161.8 L519.4,161.5 L520.76,160.92 L521.67,159.77 L522.8,158.9 L523.91,157.96 L525.04,157.04 L526.3,156.3 L527.08,154.95 L528,153.7 L529.13,152.43 L530.3,151.2 L531.52,152.55 L532.3,154.2 L533.06,155.56 L533.19,157.12 L533.83,158.52 L534.2,160 L534.26,161.6 L534.28,163.2 L534.2,164.8 L535.51,165.68 L536.67,166.76 L538,167.6 L538.22,169.15 L539,170.5 L540.54,171.11 L542.16,171.37 L543.8,171.5 L544.99,171.99 L546.15,172.56 L547.49,172.69 L548.6,173.4 L550.25,173.44 L551.87,173.62 L553.4,174.3 L554.85,173.82 L556.3,174.3 L554.9,176 L554.4,177.3 L554.11,178.67 L553.7,180 L553.4,182 L552.79,183.23 L552.7,184.6 L550.88,184.97 L549.1,185.5 L547.7,185.54 L546.5,184.8 L544.5,183.6 L542.87,183.6 L541.5,184.5 L540.24,184.69 L539,185 L537.89,184.11 L536.53,183.69 L535.34,182.95 L534.1,182.3 L532.75,182.95 L531.2,182.57 L529.77,182.83 L528.4,183.4 L526.97,182.75 L526.14,181.38 L524.9,180.5 L523.5,181 L522.5,179.5 Z" fill="#e38979" stroke="#000" stroke-width="1.12" stroke-linejoin="round"/>
<path d="M539,185 L537.89,184.11 L536.53,183.69 L535.34,182.95 L534.1,182.3 L532.75,182.95 L531.2,182.57 L529.77,182.83 L528.4,183.4 L526.97,182.75 L526.14,181.38 L524.9,180.5 L523.5,181 L522.94,182.26 L522.3,183.47 L521.5,184.6 L520.78,185.66 L519.96,186.66 L519.8,188 L519.61,189.53 L518.52,190.78 L518.59,192.39 L518,193.8 L518.85,195.41 L519.2,197.2 L520.73,197.5 L522.27,196.79 L523.8,197.2 L525.11,197.71 L525.89,199 L527.2,199.5 L528.68,199.66 L530.07,200.26 L531.46,200.85 L533,200.7 L534.05,199.45 L535.3,198.4 L535.32,196.65 L535.3,194.9 L535.09,193.06 L534.1,191.5 L534.82,190.27 L535.87,189.34 L537,188.5 L537.88,187.45 L538.43,186.22 L539,185 Z" fill="#faddda" stroke="#000" stroke-width="1.12" stroke-linejoin="round"/>
<path d="M539,185 L540.24,184.69 L541.5,184.5 L542.87,183.6 L544.5,183.6 L544.97,185.05 L545.52,186.47 L545.7,188 L544.93,189.23 L544.06,190.39 L543.44,191.73 L542.2,192.6 L541.43,193.63 L540.74,194.7 L540.5,196 L540.83,197.74 L541,199.5 L540.03,198.57 L538.7,198.4 L537,198.11 L535.3,198.4 L534.5,199.9 L533,200.7 L534.05,199.45 L535.3,198.4 L535.32,196.65 L535.3,194.9 L535.09,193.06 L534.1,191.5 L534.82,190.27 L535.87,189.34 L537,188.5 L537.88,187.45 L538.43,186.22 L539,185 Z" fill="#eda699" stroke="#000" stroke-width="1.12" stroke-linejoin="round"/>
<path d="M544.5,183.6 L546.5,184.8 L547.7,185.54 L549.1,185.5 L550.88,184.97 L552.7,184.6 L553.35,185.97 L554.71,186.66 L555.7,187.7 L557.3,189.2 L555.96,189.92 L555.38,191.41 L554.2,192.3 L554.24,193.96 L553.4,195.4 L554.58,196.1 L555.7,196.9 L557.19,196.09 L558,194.6 L557.43,196.25 L557.5,198 L557.3,200 L556.89,201.42 L555.7,202.3 L553.4,203 L552.11,201.83 L550.4,201.5 L549.09,201.26 L547.86,200.66 L546.5,200.7 L545.2,200.3 L543.97,199.69 L542.7,199.2 L541,199.5 L540.83,197.74 L540.5,196 L540.74,194.7 L541.43,193.63 L542.2,192.6 L543.44,191.73 L544.06,190.39 L544.93,189.23 L545.7,188 L545.52,186.47 L544.97,185.05 L544.5,183.6 Z" fill="#efb0a6" stroke="#000" stroke-width="1.12" stroke-linejoin="round"/>
<path d="M533,200.7 L534.5,199.9 L535.3,198.4 L537,198.11 L538.7,198.4 L540.03,198.57 L541,199.5 L542.7,199.2 L543.97,199.69 L545.2,200.3 L546.5,200.7 L547.86,200.66 L549.09,201.26 L550.4,201.5 L552.11,201.83 L553.4,203 L552,204.5 L551.4,206 L551,208 L550.6,210 L551,212 L549.6,211.5 L548.26,211.33 L547,211.8 L545,212.2 L544.09,213.41 L543.5,214.8 L542.36,214 L541.1,213.4 L539.71,213.75 L538.5,214.5 L536.4,215.7 L534.97,214.83 L534.1,213.4 L534.49,211.95 L535.16,210.56 L535,209 L535.64,207.83 L535.6,206.41 L536.4,205.3 L535.64,204.08 L534.85,202.89 L534.04,201.71 L533,200.7 Z" fill="#e38777" stroke="#000" stroke-width="1.12" stroke-linejoin="round"/>
<path d="M543.5,214.8 L544.09,213.41 L545,212.2 L547,211.8 L548.26,211.33 L549.6,211.5 L551,212 L551.9,213.8 L551.5,216 L551.1,217.6 L549.79,217.34 L548.6,218.15 L547.3,218 L546.41,216.43 L545,215.3 L543.5,214.8 Z" fill="#f3beb6" stroke="#000" stroke-width="1.12" stroke-linejoin="round"/>
<path d="M553.4,203 L555.7,202.3 L556.89,201.42 L557.3,200 L557.5,198 L557.43,196.25 L558,194.6 L558.99,193.58 L559.6,192.3 L561.9,193.1 L562.75,194.23 L563.34,195.46 L563.4,196.9 L564.61,197.55 L565.7,198.4 L567.2,200 L566.64,201.51 L565.79,202.93 L565.7,204.6 L566.14,206.15 L566.69,207.67 L567.2,209.2 L566.28,210.3 L566.34,211.79 L565.7,213 L566.85,214.15 L568,215.3 L570.3,216.1 L572.15,216.4 L573.6,217.6 L572.09,217.91 L570.7,218.47 L569.6,219.62 L568.35,220.46 L566.9,220.9 L565.48,221.16 L564.31,222.11 L562.77,222.05 L561.45,222.57 L560.2,223.3 L558.85,223.58 L557.54,224.07 L556.18,224.31 L554.8,224.5 L554.3,223.3 L553.27,222.5 L552.5,221.5 L552.5,220.03 L551.73,218.84 L551.1,217.6 L551.5,216 L551.9,213.8 L551,212 L550.6,210 L551,208 L551.4,206 L552,204.5 L553.4,203 Z" fill="#f1b6ac" stroke="#000" stroke-width="1.12" stroke-linejoin="round"/>
<path d="M556.3,174.3 L557.55,174.71 L558.75,175.28 L560.1,175.3 L562,176.3 L562.16,177.61 L562.91,178.77 L563,180.1 L564.04,181.38 L564.4,183 L564.64,184.61 L565.5,186 L566.39,187.19 L566.2,188.85 L567.2,190 L567.88,191.07 L568.95,191.83 L569.5,193 L570.15,194.18 L571.02,195.23 L571.5,196.5 L571.84,197.85 L572.61,198.92 L573.99,199.62 L574.3,200.98 L575,202.1 L575.32,203.72 L576.73,204.85 L577,206.5 L578.03,207.58 L578.52,208.99 L579.04,210.38 L580,211.5 L581.29,212.04 L581.81,213.47 L582.92,214.22 L584,215 L585.5,215.28 L586.8,216.13 L588.28,216.49 L589.7,217 L590.94,218.07 L592.36,218.84 L593.8,219.6 L595.01,220.07 L596.1,220.84 L597.28,221.4 L598.6,221.6 L599.15,222.78 L599.73,223.94 L600.5,225 L601.27,226.45 L601.57,228.12 L602.5,229.5 L601.55,230.44 L601.08,231.76 L600,232.6 L598.7,232.57 L597.46,231.99 L596.13,232.23 L594.82,232.26 L593.58,231.73 L592.31,231.49 L591,231.5 L590.25,230.35 L588.85,229.85 L587.89,228.91 L587.2,227.7 L585.62,227.7 L584.2,226.98 L582.64,226.9 L581.2,226.3 L580.99,224.95 L580.55,223.64 L580.3,222.3 L578.76,221.97 L577.6,220.9 L576.83,219.8 L575.58,219.28 L574.43,218.63 L573.6,217.6 L572.15,216.4 L570.3,216.1 L568,215.3 L566.85,214.15 L565.7,213 L566.34,211.79 L566.28,210.3 L567.2,209.2 L566.69,207.67 L566.14,206.15 L565.7,204.6 L565.79,202.93 L566.64,201.51 L567.2,200 L565.7,198.4 L564.61,197.55 L563.4,196.9 L563.34,195.46 L562.75,194.23 L561.9,193.1 L559.6,192.3 L558.99,193.58 L558,194.6 L557.19,196.09 L555.7,196.9 L554.58,196.1 L553.4,195.4 L554.24,193.96 L554.2,192.3 L555.38,191.41 L555.96,189.92 L557.3,189.2 L555.7,187.7 L554.71,186.66 L553.35,185.97 L552.7,184.6 L552.79,183.23 L553.4,182 L553.7,180 L554.11,178.67 L554.4,177.3 L554.9,176 L556.3,174.3 Z" fill="#e89484" stroke="#000" stroke-width="1.12" stroke-linejoin="round"/>
<path d="M533,200.7 L531.46,200.85 L530.07,200.26 L528.68,199.66 L527.2,199.5 L525.89,199 L525.11,197.71 L523.8,197.2 L522.27,196.79 L520.73,197.5 L519.2,197.2 L517.43,196.84 L515.7,196.3 L514.38,197.08 L512.87,197.04 L511.42,197.26 L510,197.6 L508.71,198.51 L508.2,200 L508.45,201.67 L509.5,203 L508.8,205.3 L508.07,206.47 L507.12,207.46 L506.25,208.51 L505.3,209.5 L503.94,209.74 L503.13,210.88 L502,211.5 L501.5,213 L500.65,214.11 L500.5,215.5 L501.62,216.26 L502.99,216.64 L503.75,217.94 L505,218.5 L506.09,219.39 L507.57,219.32 L508.66,220.23 L510,220.5 L511.4,221.27 L513,221.4 L514.49,221.77 L516,222 L517.28,220.69 L518,219 L519.46,218.21 L520.08,216.53 L521.5,215.7 L523.01,215.59 L524.51,215.75 L526,216 L527.58,216.14 L529.16,216.17 L530.7,215.7 L532.37,216.24 L534.1,216 L536.4,215.7 L534.97,214.83 L534.1,213.4 L534.49,211.95 L535.16,210.56 L535,209 L535.64,207.83 L535.6,206.41 L536.4,205.3 L535.64,204.08 L534.85,202.89 L534.04,201.71 L533,200.7 Z" fill="#f5c5bf" stroke="#000" stroke-width="1.12" stroke-linejoin="round"/>
<path d="M502,211.5 L501.36,210.31 L501.83,208.85 L500.97,207.71 L500.8,206.4 L499.22,206.04 L497.61,206.05 L496,206 L494.49,206.22 L493,206.5 L494.23,207.27 L494.93,208.57 L496,209.5 L496.67,211.01 L498,212 L499.02,213.03 L499.84,214.21 L500.5,215.5 L500.65,214.11 L501.5,213 L502,211.5 Z" fill="#f6c9c3" stroke="#000" stroke-width="1.12" stroke-linejoin="round"/>
<path d="M536.4,215.7 L538.5,214.5 L539.71,213.75 L541.1,213.4 L542.36,214 L543.5,214.8 L545,215.3 L546.41,216.43 L547.3,218 L548.6,218.15 L549.79,217.34 L551.1,217.6 L551.73,218.84 L552.5,220.03 L552.5,221.5 L553.27,222.5 L554.3,223.3 L554.8,224.5 L555.15,225.94 L555.44,227.4 L556.12,228.77 L556.1,230.3 L556.13,231.73 L556.98,232.95 L556.68,234.47 L557.5,235.7 L556.41,236.84 L556.02,238.33 L555.74,239.88 L554.8,241.1 L553.49,240.65 L552.61,239.42 L551.13,239.28 L550,238.5 L548.33,238.08 L546.7,237.5 L545.59,236.61 L544.73,235.39 L543.41,234.76 L542.2,234 L540.8,233.73 L539.81,232.62 L538.45,232.27 L537.27,231.55 L536,231 L534.29,230.8 L533,229.57 L531.4,229.1 L530.24,228.06 L528.58,228.06 L527.51,226.82 L526,226.5 L524.69,225.96 L523.43,225.28 L521.86,225.44 L520.7,224.5 L519.32,224.26 L518.44,223.07 L516.98,222.99 L516,222 L517.28,220.69 L518,219 L519.46,218.21 L520.08,216.53 L521.5,215.7 L523.01,215.59 L524.51,215.75 L526,216 L527.58,216.14 L529.16,216.17 L530.7,215.7 L532.37,216.24 L534.1,216 L536.4,215.7 Z" fill="#f4c0b8" stroke="#000" stroke-width="1.12" stroke-linejoin="round"/>
<path d="M554.8,224.5 L556.18,224.31 L557.54,224.07 L558.85,223.58 L560.2,223.3 L561.45,222.57 L562.77,222.05 L564.31,222.11 L565.48,221.16 L566.9,220.9 L568.35,220.46 L569.6,219.62 L570.7,218.47 L572.09,217.91 L573.6,217.6 L574.43,218.63 L575.58,219.28 L576.83,219.8 L577.6,220.9 L578.76,221.97 L580.3,222.3 L580.55,223.64 L580.99,224.95 L581.2,226.3 L582.64,226.9 L584.2,226.98 L585.62,227.7 L587.2,227.7 L587.89,228.91 L588.85,229.85 L590.25,230.35 L591,231.5 L592.31,231.49 L593.58,231.73 L594.82,232.26 L596.13,232.23 L597.46,231.99 L598.7,232.57 L600,232.6 L600.09,234.31 L599.8,236 L599.23,237.19 L599.67,238.54 L598.89,239.7 L598.95,240.99 L598.54,242.21 L598.6,243.5 L597.03,244.01 L595.39,243.59 L593.8,243.8 L592.53,243.56 L591.25,243.63 L589.98,243.45 L588.7,243.6 L587.21,243.81 L585.78,244.21 L584.49,245.01 L583.19,245.79 L581.7,246 L580.72,246.93 L579.42,247.09 L578.18,247.4 L577.08,248.04 L575.7,248.02 L574.7,248.9 L573.16,248.48 L571.53,248.8 L570,248.3 L568.57,247.39 L566.9,247.1 L565.62,246.31 L564.29,245.65 L563.09,244.69 L561.53,244.49 L560.2,243.8 L558.69,243.45 L557.41,242.63 L556.37,241.34 L554.8,241.1 L555.74,239.88 L556.02,238.33 L556.41,236.84 L557.5,235.7 L556.68,234.47 L556.98,232.95 L556.13,231.73 L556.1,230.3 L556.12,228.77 L555.44,227.4 L555.15,225.94 L554.8,224.5 Z" fill="#de7c6c" stroke="#000" stroke-width="1.12" stroke-linejoin="round"/>
<path d="M600,232.6 L601.08,231.76 L601.55,230.44 L602.5,229.5 L603.3,229 L604.17,227.87 L605,226.7 L606.32,225.62 L607.4,224.3 L608.57,225.2 L609.01,226.58 L609.7,227.8 L610.61,228.97 L612.25,229.09 L613.2,230.2 L614.29,228.96 L615.32,227.66 L616.7,226.7 L617.74,225.71 L619.09,225.18 L620.2,224.3 L622.6,224.9 L623.76,225.66 L624.13,227.02 L625,228 L625.48,229.3 L626.38,230.32 L627.2,231.4 L628.27,232.69 L629.6,233.7 L630.95,234.68 L632.01,235.95 L633.1,237.2 L634.26,238.38 L635.4,239.57 L636.6,240.7 L636.6,243 L635.12,243.25 L633.56,243.14 L632.23,244.17 L630.7,244.2 L629.29,244.24 L627.91,244.57 L626.53,244.86 L625.1,244.73 L623.7,244.8 L622.6,245.98 L622.38,247.65 L621.4,248.9 L620.48,249.89 L620.25,251.23 L619.42,252.26 L618.82,253.41 L618.5,254.7 L618.29,255.97 L618.24,257.26 L617.83,258.51 L617.81,259.8 L617.9,261.1 L616.59,260.39 L615.99,259.05 L615.39,257.7 L614.02,257.05 L613.2,255.9 L612.14,255.08 L611.63,253.71 L610.54,252.92 L609.18,252.4 L608.5,251.2 L607.64,250.2 L606.63,249.34 L606.07,248.06 L604.72,247.53 L603.9,246.5 L602.81,245.34 L601.33,244.85 L599.92,244.26 L598.6,243.5 L598.54,242.21 L598.95,240.99 L598.89,239.7 L599.67,238.54 L599.23,237.19 L599.8,236 L600.09,234.31 L600,232.6 Z" fill="#c64739" stroke="#000" stroke-width="1.12" stroke-linejoin="round"/>
<path d="M602.5,229.5 L601.57,228.12 L601.27,226.45 L600.5,225 L599.73,223.94 L599.15,222.78 L598.6,221.6 L598.98,220.12 L600.2,219.2 L601.78,219.52 L603.44,219.13 L605,219.7 L605.99,218.55 L607.1,217.5 L608.43,216.94 L609.78,216.48 L611.34,216.88 L612.71,216.49 L614,215.8 L615.66,216.61 L617.5,216.6 L618.21,218.04 L619.76,218.7 L620.7,219.93 L621.7,221.1 L623.24,221.35 L624.59,222.16 L626.1,222.5 L627.27,223.08 L628.42,223.68 L629.5,224.4 L630.6,226 L630.68,227.6 L630.49,229.2 L630.6,230.8 L628.86,230.9 L627.2,231.4 L626.38,230.32 L625.48,229.3 L625,228 L624.13,227.02 L623.76,225.66 L622.6,224.9 L620.2,224.3 L619.09,225.18 L617.74,225.71 L616.7,226.7 L615.32,227.66 L614.29,228.96 L613.2,230.2 L612.25,229.09 L610.61,228.97 L609.7,227.8 L609.01,226.58 L608.57,225.2 L607.4,224.3 L606.32,225.62 L605,226.7 L604.17,227.87 L603.3,229 L602.5,229.5 Z" fill="#c24032" stroke="#000" stroke-width="1.12" stroke-linejoin="round"/>
<path d="M629.5,224.4 L628.42,223.68 L627.27,223.08 L626.1,222.5 L624.59,222.16 L623.24,221.35 L621.7,221.1 L620.7,219.93 L619.76,218.7 L618.21,218.04 L617.5,216.6 L618.77,216.3 L620.11,216.32 L621.28,215.65 L622.46,215.01 L623.8,215 L625.22,214.46 L626.04,212.99 L627.38,212.33 L628.81,211.8 L630,210.9 L630.81,209.66 L631.25,208.2 L632.34,207.14 L633.49,206.12 L634,204.7 L634.19,203.43 L634.29,202.13 L634.49,200.86 L635.16,199.71 L635.6,198.5 L636.23,197.23 L635.94,195.82 L636.2,194.5 L637.42,195.26 L638.53,196.22 L640,196.5 L641.6,196.79 L642.87,197.76 L644.2,198.6 L645.06,199.79 L646.13,200.82 L647,202 L647.74,203.28 L648.2,204.73 L649.3,205.8 L649.21,207.11 L648.94,208.43 L649.17,209.74 L649.28,211.06 L649.19,212.37 L649.33,213.69 L649.3,215 L649.52,216.28 L649.23,217.55 L648.81,218.82 L649.19,220.1 L648.89,221.38 L649.05,222.65 L649.01,223.92 L649.3,225.2 L647.97,225.31 L646.64,225.37 L645.31,225.14 L643.98,225.4 L642.67,224.59 L641.32,225.4 L640,225 L638.67,225.24 L637.36,225.12 L636.06,224.85 L634.76,224.56 L633.44,224.61 L632.15,224.1 L630.81,224.55 L629.5,224.4 Z" fill="#b72f24" stroke="#000" stroke-width="1.12" stroke-linejoin="round"/>
<path d="M649.3,205.8 L648.2,204.73 L647.74,203.28 L647,202 L646.13,200.82 L645.06,199.79 L644.2,198.6 L642.87,197.76 L641.6,196.79 L640,196.5 L638.53,196.22 L637.42,195.26 L636.2,194.5 L636.88,193.04 L636.15,191.39 L637.06,189.96 L637,188.4 L638.09,187.67 L639.42,187.78 L640.69,187.64 L641.9,187.33 L642.97,186.55 L644.2,186.3 L645.38,185.58 L646.68,185.45 L648.09,185.89 L649.27,185.16 L650.67,185.54 L651.89,185.02 L653.08,184.34 L654.4,184.3 L655.69,183.96 L656.98,183.89 L658.26,184.79 L659.55,183.94 L660.84,184.76 L662.12,184.61 L663.41,184.33 L664.7,184.3 L664.09,185.77 L664.08,187.34 L663.76,188.86 L663.6,190.4 L663.11,191.69 L662.72,193.03 L661.37,193.91 L660.82,195.18 L660.6,196.6 L659.44,197.54 L658.34,198.57 L656.91,199.11 L655.5,199.67 L654.4,200.7 L653.13,201.47 L652.01,202.39 L651.35,203.77 L650.21,204.67 L649.3,205.8 Z" fill="#b0231b" stroke="#000" stroke-width="1.12" stroke-linejoin="round"/>
<path d="M649.3,205.8 L650.21,204.67 L651.35,203.77 L652.01,202.39 L653.13,201.47 L654.4,200.7 L655.5,199.67 L656.91,199.11 L658.34,198.57 L659.44,197.54 L660.6,196.6 L660.82,195.18 L661.37,193.91 L662.72,193.03 L663.11,191.69 L663.6,190.4 L663.76,188.86 L664.08,187.34 L664.09,185.77 L664.7,184.3 L666.24,184.13 L667.78,183.98 L669.22,183.22 L670.8,183.3 L671.53,184.57 L672.8,185.3 L672.19,186.5 L672.13,187.82 L672.4,189.19 L671.8,190.4 L671.13,191.47 L670.18,192.34 L669.5,193.4 L668.95,194.56 L668.5,195.78 L667.18,196.39 L666.7,197.6 L666.21,198.77 L665.75,199.95 L665.44,201.18 L665.07,202.4 L664.07,203.37 L664,204.7 L664.36,206.09 L663.9,207.43 L663.49,208.78 L663.96,210.18 L663.95,211.55 L663.6,212.9 L662.97,214.28 L662.78,215.72 L663.44,217.28 L662.77,218.66 L662.6,220.1 L661.97,221.56 L660.37,222.16 L659.6,223.5 L658.36,223.95 L657.1,224.33 L655.72,224.25 L654.5,224.8 L652.79,225.39 L651,225.1 L649.3,225.2 L649.01,223.92 L649.05,222.65 L648.89,221.38 L649.19,220.1 L648.81,218.82 L649.23,217.55 L649.52,216.28 L649.3,215 L649.33,213.69 L649.19,212.37 L649.28,211.06 L649.17,209.74 L648.94,208.43 L649.21,207.11 L649.3,205.8 Z" fill="#c64739" stroke="#000" stroke-width="1.12" stroke-linejoin="round"/>
<path d="M546.5,205.3 L548.4,206.5 L549.3,208.5 L550,210.3 L547.5,210.4 L545.4,210 L545.8,207.5 Z" fill="#e18474" stroke="#000" stroke-width="1.12" stroke-linejoin="round"/>
<path d="M553.4,206.9 L556.5,205 L560.3,205.3 L561.9,207.6 L559.6,209.2 L557.3,210.3 L555,209.2 Z" fill="#e38777" stroke="#000" stroke-width="1.12" stroke-linejoin="round"/>
<path d="M494.6,170.4 L500.2,170.1 L500.7,172.4 L499.6,174.2 L496.5,174.5 L494.4,173.6 Z" fill="#000"/>
<ellipse cx="496.4" cy="171.9" rx="0.7" ry="0.6" fill="#f3c4bc"/><ellipse cx="498.4" cy="171.8" rx="0.7" ry="0.6" fill="#f3c4bc"/>
<circle cx="505.1" cy="174.8" r="1" fill="#000"/>
<path d="M399.8,94.4 L401.2,94 L403.5,96.5 L405.6,100 L404.8,101.4 L402.5,100 L400.5,97 Z" fill="#f1b7ae" stroke="#000" stroke-width="1.1" stroke-linejoin="round"/>
<path d="M410.6,97.6 L412.6,97.1 L414.1,99.6 L413.6,103 L411.6,102.1 L410.7,100 Z" fill="#fbdedb" stroke="#000" stroke-width="1.1" stroke-linejoin="round"/>
<path d="M382.6,107.3 L383.6,107.1 L384.4,109.5 L384,111.6 L382.8,111.2 L382.3,109 Z" fill="#222" stroke="#000" stroke-width="1.1" stroke-linejoin="round"/>
<path d="M379.2,107.7 L380.2,107.6 L380.3,108.3 L379.3,108.4 Z" fill="#222" stroke="#000" stroke-width="1.1" stroke-linejoin="round"/>
<path d="M416.9,116.6 L418.4,116.3 L418.9,118.7 L417.6,119.1 Z" fill="#f1b7ae" stroke="#000" stroke-width="1.1" stroke-linejoin="round"/>
<path d="M423.6,133.6 L425,133.3 L425.7,136.4 L424.3,136.8 Z" fill="#f1b7ae" stroke="#000" stroke-width="1.1" stroke-linejoin="round"/>
<path d="M427.6,140.6 L429.1,140.3 L431.1,145.8 L429.9,146.8 L428.6,144 Z" fill="#f1b7ae" stroke="#000" stroke-width="1.1" stroke-linejoin="round"/>
<path d="M433.6,148.2 L435,148.6 L435.3,150.2 L434,150.1 Z" fill="#f1b7ae" stroke="#000" stroke-width="1.1" stroke-linejoin="round"/>
<path d="M470.6,181.4 L471.4,181.2 L473.9,185.4 L473.2,185.9 Z" fill="#f6c9c3" stroke="#000" stroke-width="1.1" stroke-linejoin="round"/>
<path d="M672.4,195.6 L673.6,195.3 L673.9,197.6 L672.7,198 Z" fill="#c64739" stroke="#000" stroke-width="1.1" stroke-linejoin="round"/>
<text x="0" y="275.6" font-size="15" font-weight="bold" fill="#000">c</text>
<line x1="56.4" y1="275.1" x2="56.4" y2="393.4" stroke="#8c8c8c" stroke-width="1"/>
<line x1="56.4" y1="393.4" x2="685" y2="393.4" stroke="#8c8c8c" stroke-width="1"/>
<line x1="52" y1="288.8" x2="56.4" y2="288.8" stroke="#666" stroke-width="1"/>
<text x="47.4" y="288.8" text-anchor="end" font-size="9.7" fill="#3a3a3a" dy="3.4">0.20</text>
<line x1="52" y1="313.6" x2="56.4" y2="313.6" stroke="#666" stroke-width="1"/>
<text x="47.4" y="313.6" text-anchor="end" font-size="9.7" fill="#3a3a3a" dy="3.4">0.15</text>
<line x1="52" y1="338.6" x2="56.4" y2="338.6" stroke="#666" stroke-width="1"/>
<text x="47.4" y="338.6" text-anchor="end" font-size="9.7" fill="#3a3a3a" dy="3.4">0.10</text>
<line x1="52" y1="363.4" x2="56.4" y2="363.4" stroke="#666" stroke-width="1"/>
<text x="47.4" y="363.4" text-anchor="end" font-size="9.7" fill="#3a3a3a" dy="3.4">0.05</text>
<line x1="52" y1="388.2" x2="56.4" y2="388.2" stroke="#666" stroke-width="1"/>
<text x="47.4" y="388.2" text-anchor="end" font-size="9.7" fill="#3a3a3a" dy="3.4">0</text>
<text transform="translate(9.8,334.2) rotate(-90)" text-anchor="middle" font-size="11.3" fill="#222">Allele frequency of</text>
<text transform="translate(21.1,335.3) rotate(-90)" text-anchor="middle" font-size="11.3" fill="#222">rs4149056-C</text>
<line x1="62.65" y1="393.4" x2="62.65" y2="397.6" stroke="#555" stroke-width="1"/>
<line x1="62.65" y1="388.2" x2="62.65" y2="388.3" stroke="#d4d4d4" stroke-width="2.3"/>
<line x1="73.83" y1="393.4" x2="73.83" y2="397.6" stroke="#555" stroke-width="1"/>
<line x1="73.83" y1="381.4" x2="73.83" y2="388.3" stroke="#d4d4d4" stroke-width="2.3"/>
<line x1="85.01" y1="393.4" x2="85.01" y2="397.6" stroke="#555" stroke-width="1"/>
<line x1="85.01" y1="371.4" x2="85.01" y2="388.3" stroke="#d4d4d4" stroke-width="2.3"/>
<line x1="96.19" y1="393.4" x2="96.19" y2="397.6" stroke="#555" stroke-width="1"/>
<line x1="96.19" y1="369" x2="96.19" y2="388.3" stroke="#d4d4d4" stroke-width="2.3"/>
<line x1="107.37" y1="393.4" x2="107.37" y2="397.6" stroke="#555" stroke-width="1"/>
<line x1="107.37" y1="367.7" x2="107.37" y2="388.3" stroke="#d4d4d4" stroke-width="2.3"/>
<line x1="118.55" y1="393.4" x2="118.55" y2="397.6" stroke="#555" stroke-width="1"/>
<line x1="118.55" y1="367" x2="118.55" y2="388.3" stroke="#d4d4d4" stroke-width="2.3"/>
<line x1="129.73" y1="393.4" x2="129.73" y2="397.6" stroke="#555" stroke-width="1"/>
<line x1="129.73" y1="366.7" x2="129.73" y2="388.3" stroke="#d4d4d4" stroke-width="2.3"/>
<line x1="140.91" y1="393.4" x2="140.91" y2="397.6" stroke="#555" stroke-width="1"/>
<line x1="140.91" y1="365.4" x2="140.91" y2="388.3" stroke="#d4d4d4" stroke-width="2.3"/>
<line x1="152.09" y1="393.4" x2="152.09" y2="397.6" stroke="#555" stroke-width="1"/>
<line x1="152.09" y1="364.9" x2="152.09" y2="388.3" stroke="#d4d4d4" stroke-width="2.3"/>
<line x1="163.27" y1="393.4" x2="163.27" y2="397.6" stroke="#555" stroke-width="1"/>
<line x1="163.27" y1="363.3" x2="163.27" y2="388.3" stroke="#d4d4d4" stroke-width="2.3"/>
<line x1="174.45" y1="393.4" x2="174.45" y2="397.6" stroke="#555" stroke-width="1"/>
<line x1="174.45" y1="362.7" x2="174.45" y2="388.3" stroke="#d4d4d4" stroke-width="2.3"/>
<line x1="185.63" y1="393.4" x2="185.63" y2="397.6" stroke="#555" stroke-width="1"/>
<line x1="185.63" y1="362" x2="185.63" y2="388.3" stroke="#d4d4d4" stroke-width="2.3"/>
<line x1="196.81" y1="393.4" x2="196.81" y2="397.6" stroke="#555" stroke-width="1"/>
<line x1="196.81" y1="362" x2="196.81" y2="388.3" stroke="#d4d4d4" stroke-width="2.3"/>
<line x1="207.99" y1="393.4" x2="207.99" y2="397.6" stroke="#555" stroke-width="1"/>
<line x1="207.99" y1="360.9" x2="207.99" y2="388.3" stroke="#d4d4d4" stroke-width="2.3"/>
<line x1="219.17" y1="393.4" x2="219.17" y2="397.6" stroke="#555" stroke-width="1"/>
<line x1="219.17" y1="360" x2="219.17" y2="388.3" stroke="#d4d4d4" stroke-width="2.3"/>
<line x1="230.35" y1="393.4" x2="230.35" y2="397.6" stroke="#555" stroke-width="1"/>
<line x1="230.35" y1="359.6" x2="230.35" y2="388.3" stroke="#d4d4d4" stroke-width="2.3"/>
<line x1="241.53" y1="393.4" x2="241.53" y2="397.6" stroke="#555" stroke-width="1"/>
<line x1="241.53" y1="358" x2="241.53" y2="388.3" stroke="#d4d4d4" stroke-width="2.3"/>
<line x1="252.71" y1="393.4" x2="252.71" y2="397.6" stroke="#555" stroke-width="1"/>
<line x1="252.71" y1="356.5" x2="252.71" y2="388.3" stroke="#d4d4d4" stroke-width="2.3"/>
<line x1="263.89" y1="393.4" x2="263.89" y2="397.6" stroke="#555" stroke-width="1"/>
<line x1="263.89" y1="356.2" x2="263.89" y2="388.3" stroke="#d4d4d4" stroke-width="2.3"/>
<line x1="275.07" y1="393.4" x2="275.07" y2="397.6" stroke="#555" stroke-width="1"/>
<line x1="275.07" y1="354.4" x2="275.07" y2="388.3" stroke="#d4d4d4" stroke-width="2.3"/>
<line x1="286.25" y1="393.4" x2="286.25" y2="397.6" stroke="#555" stroke-width="1"/>
<line x1="286.25" y1="353.3" x2="286.25" y2="388.3" stroke="#d4d4d4" stroke-width="2.3"/>
<line x1="297.43" y1="393.4" x2="297.43" y2="397.6" stroke="#555" stroke-width="1"/>
<line x1="297.43" y1="352.5" x2="297.43" y2="388.3" stroke="#d4d4d4" stroke-width="2.3"/>
<line x1="308.61" y1="393.4" x2="308.61" y2="397.6" stroke="#555" stroke-width="1"/>
<line x1="308.61" y1="352.5" x2="308.61" y2="388.3" stroke="#d4d4d4" stroke-width="2.3"/>
<line x1="319.79" y1="393.4" x2="319.79" y2="397.6" stroke="#555" stroke-width="1"/>
<line x1="319.79" y1="352" x2="319.79" y2="388.3" stroke="#d4d4d4" stroke-width="2.3"/>
<line x1="330.97" y1="393.4" x2="330.97" y2="397.6" stroke="#555" stroke-width="1"/>
<line x1="330.97" y1="352" x2="330.97" y2="388.3" stroke="#d4d4d4" stroke-width="2.3"/>
<line x1="342.15" y1="393.4" x2="342.15" y2="397.6" stroke="#555" stroke-width="1"/>
<line x1="342.15" y1="351.5" x2="342.15" y2="388.3" stroke="#d4d4d4" stroke-width="2.3"/>
<line x1="353.33" y1="393.4" x2="353.33" y2="397.6" stroke="#555" stroke-width="1"/>
<line x1="353.33" y1="350.7" x2="353.33" y2="388.3" stroke="#d4d4d4" stroke-width="2.3"/>
<line x1="364.51" y1="393.4" x2="364.51" y2="397.6" stroke="#555" stroke-width="1"/>
<line x1="364.51" y1="350.2" x2="364.51" y2="388.3" stroke="#d4d4d4" stroke-width="2.3"/>
<line x1="375.69" y1="393.4" x2="375.69" y2="397.6" stroke="#555" stroke-width="1"/>
<line x1="375.69" y1="349.2" x2="375.69" y2="388.3" stroke="#d4d4d4" stroke-width="2.3"/>
<line x1="386.87" y1="393.4" x2="386.87" y2="397.6" stroke="#555" stroke-width="1"/>
<line x1="386.87" y1="348" x2="386.87" y2="388.3" stroke="#d4d4d4" stroke-width="2.3"/>
<line x1="398.05" y1="393.4" x2="398.05" y2="397.6" stroke="#555" stroke-width="1"/>
<line x1="398.05" y1="346.8" x2="398.05" y2="388.3" stroke="#d4d4d4" stroke-width="2.3"/>
<line x1="409.23" y1="393.4" x2="409.23" y2="397.6" stroke="#555" stroke-width="1"/>
<line x1="409.23" y1="341.3" x2="409.23" y2="388.3" stroke="#d4d4d4" stroke-width="2.3"/>
<line x1="420.41" y1="393.4" x2="420.41" y2="397.6" stroke="#555" stroke-width="1"/>
<line x1="420.41" y1="340" x2="420.41" y2="388.3" stroke="#d4d4d4" stroke-width="2.3"/>
<line x1="431.59" y1="393.4" x2="431.59" y2="397.6" stroke="#555" stroke-width="1"/>
<line x1="431.59" y1="339.4" x2="431.59" y2="388.3" stroke="#d4d4d4" stroke-width="2.3"/>
<line x1="442.77" y1="393.4" x2="442.77" y2="397.6" stroke="#555" stroke-width="1"/>
<line x1="442.77" y1="336.8" x2="442.77" y2="388.3" stroke="#d4d4d4" stroke-width="2.3"/>
<line x1="453.95" y1="393.4" x2="453.95" y2="397.6" stroke="#555" stroke-width="1"/>
<line x1="453.95" y1="335.7" x2="453.95" y2="388.3" stroke="#d4d4d4" stroke-width="2.3"/>
<line x1="465.13" y1="393.4" x2="465.13" y2="397.6" stroke="#555" stroke-width="1"/>
<line x1="465.13" y1="334.4" x2="465.13" y2="388.3" stroke="#d4d4d4" stroke-width="2.3"/>
<line x1="476.31" y1="393.4" x2="476.31" y2="397.6" stroke="#555" stroke-width="1"/>
<line x1="476.31" y1="333.4" x2="476.31" y2="388.3" stroke="#d4d4d4" stroke-width="2.3"/>
<line x1="487.49" y1="393.4" x2="487.49" y2="397.6" stroke="#555" stroke-width="1"/>
<line x1="487.49" y1="333.1" x2="487.49" y2="388.3" stroke="#d4d4d4" stroke-width="2.3"/>
<line x1="498.67" y1="393.4" x2="498.67" y2="397.6" stroke="#555" stroke-width="1"/>
<line x1="498.67" y1="332.1" x2="498.67" y2="388.3" stroke="#d4d4d4" stroke-width="2.3"/>
<line x1="509.85" y1="393.4" x2="509.85" y2="397.6" stroke="#555" stroke-width="1"/>
<line x1="509.85" y1="331" x2="509.85" y2="388.3" stroke="#d4d4d4" stroke-width="2.3"/>
<line x1="521.03" y1="393.4" x2="521.03" y2="397.6" stroke="#555" stroke-width="1"/>
<line x1="521.03" y1="329.2" x2="521.03" y2="388.3" stroke="#d4d4d4" stroke-width="2.3"/>
<line x1="532.21" y1="393.4" x2="532.21" y2="397.6" stroke="#555" stroke-width="1"/>
<line x1="532.21" y1="328.6" x2="532.21" y2="388.3" stroke="#d4d4d4" stroke-width="2.3"/>
<line x1="543.39" y1="393.4" x2="543.39" y2="397.6" stroke="#555" stroke-width="1"/>
<line x1="543.39" y1="328.3" x2="543.39" y2="388.3" stroke="#d4d4d4" stroke-width="2.3"/>
<line x1="554.57" y1="393.4" x2="554.57" y2="397.6" stroke="#555" stroke-width="1"/>
<line x1="554.57" y1="327" x2="554.57" y2="388.3" stroke="#d4d4d4" stroke-width="2.3"/>
<line x1="565.75" y1="393.4" x2="565.75" y2="397.6" stroke="#555" stroke-width="1"/>
<line x1="565.75" y1="319.1" x2="565.75" y2="388.3" stroke="#d4d4d4" stroke-width="2.3"/>
<line x1="576.93" y1="393.4" x2="576.93" y2="397.6" stroke="#555" stroke-width="1"/>
<line x1="576.93" y1="317.8" x2="576.93" y2="388.3" stroke="#d4d4d4" stroke-width="2.3"/>
<line x1="588.11" y1="393.4" x2="588.11" y2="397.6" stroke="#555" stroke-width="1"/>
<line x1="588.11" y1="316.5" x2="588.11" y2="388.3" stroke="#d4d4d4" stroke-width="2.3"/>
<line x1="599.29" y1="393.4" x2="599.29" y2="397.6" stroke="#555" stroke-width="1"/>
<line x1="599.29" y1="315.2" x2="599.29" y2="388.3" stroke="#d4d4d4" stroke-width="2.3"/>
<line x1="610.47" y1="393.4" x2="610.47" y2="397.6" stroke="#555" stroke-width="1"/>
<line x1="610.47" y1="313.9" x2="610.47" y2="388.3" stroke="#d4d4d4" stroke-width="2.3"/>
<line x1="621.65" y1="393.4" x2="621.65" y2="397.6" stroke="#555" stroke-width="1"/>
<line x1="621.65" y1="312" x2="621.65" y2="388.3" stroke="#d4d4d4" stroke-width="2.3"/>
<line x1="632.83" y1="393.4" x2="632.83" y2="397.6" stroke="#555" stroke-width="1"/>
<line x1="632.83" y1="308.1" x2="632.83" y2="388.3" stroke="#d4d4d4" stroke-width="2.3"/>
<line x1="644.01" y1="393.4" x2="644.01" y2="397.6" stroke="#555" stroke-width="1"/>
<line x1="644.01" y1="306.8" x2="644.01" y2="388.3" stroke="#d4d4d4" stroke-width="2.3"/>
<line x1="655.19" y1="393.4" x2="655.19" y2="397.6" stroke="#555" stroke-width="1"/>
<line x1="655.19" y1="305.5" x2="655.19" y2="388.3" stroke="#d4d4d4" stroke-width="2.3"/>
<line x1="666.37" y1="393.4" x2="666.37" y2="397.6" stroke="#555" stroke-width="1"/>
<line x1="666.37" y1="298.4" x2="666.37" y2="388.3" stroke="#d4d4d4" stroke-width="2.3"/>
<line x1="677.55" y1="393.4" x2="677.55" y2="397.6" stroke="#555" stroke-width="1"/>
<line x1="677.55" y1="280.5" x2="677.55" y2="388.3" stroke="#d4d4d4" stroke-width="2.3"/>
<circle cx="62.65" cy="388.2" r="5.4" fill="#74c365"/>
<text x="62.65" y="389.6" text-anchor="middle" font-size="4.4" fill="#fff" fill-opacity="0.9">24</text>
<text transform="translate(65.85,402) rotate(-90)" text-anchor="end" font-size="8.95" fill="#1a1a1a" stroke="#1a1a1a" stroke-width="0.1">Huichol</text>
<circle cx="73.83" cy="381.4" r="5.4" fill="#1170aa"/>
<text x="73.83" y="382.8" text-anchor="middle" font-size="3.7" fill="#fff" fill-opacity="0.9">1,322</text>
<text transform="translate(77.03,402) rotate(-90)" text-anchor="end" font-size="8.95" fill="#1a1a1a" stroke="#1a1a1a" stroke-width="0.1">Africans</text>
<circle cx="85.01" cy="371.4" r="5.4" fill="#fb6a4a"/>
<text x="85.01" y="372.8" text-anchor="middle" font-size="4.4" fill="#fff" fill-opacity="0.9">148</text>
<text transform="translate(88.21,402) rotate(-90)" text-anchor="end" font-size="8.95" fill="#1a1a1a" stroke="#1a1a1a" stroke-width="0.1">Sonora</text>
<circle cx="96.19" cy="369" r="5.4" fill="#fb6a4a"/>
<text x="96.19" y="370.4" text-anchor="middle" font-size="4.4" fill="#fff" fill-opacity="0.9">154</text>
<text transform="translate(99.39,402) rotate(-90)" text-anchor="end" font-size="8.95" fill="#1a1a1a" stroke="#1a1a1a" stroke-width="0.1">Guanajuato</text>
<circle cx="107.37" cy="367.7" r="5.4" fill="#fb6a4a"/>
<text x="107.37" y="369.1" text-anchor="middle" font-size="4.4" fill="#fff" fill-opacity="0.9">247</text>
<text transform="translate(110.57,402) rotate(-90)" text-anchor="end" font-size="8.95" fill="#1a1a1a" stroke="#1a1a1a" stroke-width="0.1">Durango</text>
<circle cx="118.55" cy="367" r="5.4" fill="#1170aa"/>
<text x="118.55" y="368.4" text-anchor="middle" font-size="4.4" fill="#fff" fill-opacity="0.9">978</text>
<text transform="translate(121.75,402) rotate(-90)" text-anchor="end" font-size="8.95" fill="#1a1a1a" stroke="#1a1a1a" stroke-width="0.1">Southeast Asians</text>
<circle cx="129.73" cy="366.7" r="5.4" fill="#74c365"/>
<text x="129.73" y="368.1" text-anchor="middle" font-size="4.4" fill="#fff" fill-opacity="0.9">20</text>
<text transform="translate(132.93,402) rotate(-90)" text-anchor="end" font-size="8.95" fill="#1a1a1a" stroke="#1a1a1a" stroke-width="0.1">Purepecha</text>
<circle cx="140.91" cy="365.4" r="5.4" fill="#74c365"/>
<text x="140.91" y="366.8" text-anchor="middle" font-size="4.4" fill="#fff" fill-opacity="0.9">22</text>
<text transform="translate(144.11,402) rotate(-90)" text-anchor="end" font-size="8.95" fill="#1a1a1a" stroke="#1a1a1a" stroke-width="0.1" textLength="57.5" lengthAdjust="spacingAndGlyphs">Nahua_Puebla</text>
<circle cx="152.09" cy="364.9" r="5.4" fill="#fb6a4a"/>
<text x="152.09" y="366.3" text-anchor="middle" font-size="4.4" fill="#fff" fill-opacity="0.9">237</text>
<text transform="translate(155.29,402) rotate(-90)" text-anchor="end" font-size="8.95" fill="#1a1a1a" stroke="#1a1a1a" stroke-width="0.1">Nayarit</text>
<circle cx="163.27" cy="363.3" r="5.4" fill="#fb6a4a"/>
<text x="163.27" y="364.7" text-anchor="middle" font-size="4.4" fill="#fff" fill-opacity="0.9">126</text>
<text transform="translate(166.47,402) rotate(-90)" text-anchor="end" font-size="8.95" fill="#1a1a1a" stroke="#1a1a1a" stroke-width="0.1">Coahuila</text>
<circle cx="174.45" cy="362.7" r="5.4" fill="#fb6a4a"/>
<text x="174.45" y="364.1" text-anchor="middle" font-size="4.4" fill="#fff" fill-opacity="0.9">176</text>
<text transform="translate(177.65,402) rotate(-90)" text-anchor="end" font-size="8.95" fill="#1a1a1a" stroke="#1a1a1a" stroke-width="0.1">Sinaloa</text>
<circle cx="185.63" cy="362" r="5.4" fill="#fb6a4a"/>
<text x="185.63" y="363.4" text-anchor="middle" font-size="4.4" fill="#fff" fill-opacity="0.9">169</text>
<text transform="translate(188.83,402) rotate(-90)" text-anchor="end" font-size="8.95" fill="#1a1a1a" stroke="#1a1a1a" stroke-width="0.1">Jalisco</text>
<circle cx="196.81" cy="362" r="5.4" fill="#fb6a4a"/>
<text x="196.81" y="363.4" text-anchor="middle" font-size="4.4" fill="#fff" fill-opacity="0.9">206</text>
<text transform="translate(200.01,402) rotate(-90)" text-anchor="end" font-size="8.95" fill="#1a1a1a" stroke="#1a1a1a" stroke-width="0.1">Zacatecas</text>
<circle cx="207.99" cy="360.9" r="5.4" fill="#fb6a4a"/>
<text x="207.99" y="362.3" text-anchor="middle" font-size="4.4" fill="#fff" fill-opacity="0.9">147</text>
<text transform="translate(211.19,402) rotate(-90)" text-anchor="end" font-size="8.95" fill="#1a1a1a" stroke="#1a1a1a" stroke-width="0.1">Colima</text>
<circle cx="219.17" cy="360" r="5.4" fill="#fb6a4a"/>
<text x="219.17" y="361.4" text-anchor="middle" font-size="4.4" fill="#fff" fill-opacity="0.9">163</text>
<text transform="translate(222.37,402) rotate(-90)" text-anchor="end" font-size="8.95" fill="#1a1a1a" stroke="#1a1a1a" stroke-width="0.1">Michoacan</text>
<circle cx="230.35" cy="359.6" r="5.4" fill="#fb6a4a"/>
<text x="230.35" y="361" text-anchor="middle" font-size="4.4" fill="#fff" fill-opacity="0.9">136</text>
<text transform="translate(233.55,402) rotate(-90)" text-anchor="end" font-size="8.95" fill="#1a1a1a" stroke="#1a1a1a" stroke-width="0.1">Baja California Sur</text>
<circle cx="241.53" cy="358" r="5.4" fill="#fb6a4a"/>
<text x="241.53" y="359.4" text-anchor="middle" font-size="4.4" fill="#fff" fill-opacity="0.9">132</text>
<text transform="translate(244.73,402) rotate(-90)" text-anchor="end" font-size="8.95" fill="#1a1a1a" stroke="#1a1a1a" stroke-width="0.1">Baja California</text>
<circle cx="252.71" cy="356.5" r="5.4" fill="#fb6a4a"/>
<text x="252.71" y="357.9" text-anchor="middle" font-size="4.4" fill="#fff" fill-opacity="0.9">262</text>
<text transform="translate(255.91,402) rotate(-90)" text-anchor="end" font-size="8.95" fill="#1a1a1a" stroke="#1a1a1a" stroke-width="0.1">Guerrero</text>
<circle cx="263.89" cy="356.2" r="5.4" fill="#fb6a4a"/>
<text x="263.89" y="357.6" text-anchor="middle" font-size="4.4" fill="#fff" fill-opacity="0.9">136</text>
<text transform="translate(267.09,402) rotate(-90)" text-anchor="end" font-size="8.95" fill="#1a1a1a" stroke="#1a1a1a" stroke-width="0.1">Tamaulipas</text>
<circle cx="275.07" cy="354.4" r="5.4" fill="#74c365"/>
<text x="275.07" y="355.8" text-anchor="middle" font-size="4.4" fill="#fff" fill-opacity="0.9">22</text>
<text transform="translate(278.27,402) rotate(-90)" text-anchor="end" font-size="8.95" fill="#1a1a1a" stroke="#1a1a1a" stroke-width="0.1">Lacandon</text>
<circle cx="286.25" cy="353.3" r="5.4" fill="#fb6a4a"/>
<text x="286.25" y="354.7" text-anchor="middle" font-size="4.4" fill="#fff" fill-opacity="0.9">182</text>
<text transform="translate(289.45,402) rotate(-90)" text-anchor="end" font-size="8.95" fill="#1a1a1a" stroke="#1a1a1a" stroke-width="0.1">Queretaro</text>
<circle cx="297.43" cy="352.5" r="5.4" fill="#74c365"/>
<text x="297.43" y="353.9" text-anchor="middle" font-size="4.4" fill="#fff" fill-opacity="0.9">21</text>
<text transform="translate(300.63,402) rotate(-90)" text-anchor="end" font-size="8.95" fill="#1a1a1a" stroke="#1a1a1a" stroke-width="0.1">Seri</text>
<circle cx="308.61" cy="352.5" r="5.4" fill="#74c365"/>
<text x="308.61" y="353.9" text-anchor="middle" font-size="4.4" fill="#fff" fill-opacity="0.9">21</text>
<text transform="translate(311.81,402) rotate(-90)" text-anchor="end" font-size="8.95" fill="#1a1a1a" stroke="#1a1a1a" stroke-width="0.1">Tojolabal</text>
<circle cx="319.79" cy="352" r="5.4" fill="#fb6a4a"/>
<text x="319.79" y="353.4" text-anchor="middle" font-size="4.4" fill="#fff" fill-opacity="0.9">179</text>
<text transform="translate(322.99,402) rotate(-90)" text-anchor="end" font-size="8.95" fill="#1a1a1a" stroke="#1a1a1a" stroke-width="0.1">Morelos</text>
<circle cx="330.97" cy="352" r="5.4" fill="#fb6a4a"/>
<text x="330.97" y="353.4" text-anchor="middle" font-size="4.4" fill="#fff" fill-opacity="0.9">270</text>
<text transform="translate(334.17,402) rotate(-90)" text-anchor="end" font-size="8.95" fill="#1a1a1a" stroke="#1a1a1a" stroke-width="0.1">Puebla</text>
<circle cx="342.15" cy="351.5" r="5.4" fill="#fb6a4a"/>
<text x="342.15" y="352.9" text-anchor="middle" font-size="4.4" fill="#fff" fill-opacity="0.9">209</text>
<text transform="translate(345.35,402) rotate(-90)" text-anchor="end" font-size="8.95" fill="#1a1a1a" stroke="#1a1a1a" stroke-width="0.1">Hidalgo</text>
<circle cx="353.33" cy="350.7" r="5.4" fill="#74c365"/>
<text x="353.33" y="352.1" text-anchor="middle" font-size="4.4" fill="#fff" fill-opacity="0.9">29</text>
<text transform="translate(356.53,402) rotate(-90)" text-anchor="end" font-size="8.95" fill="#1a1a1a" stroke="#1a1a1a" stroke-width="0.1" textLength="57" lengthAdjust="spacingAndGlyphs">Nahua_Jalisco</text>
<circle cx="364.51" cy="350.2" r="5.4" fill="#fb6a4a"/>
<text x="364.51" y="351.6" text-anchor="middle" font-size="4.4" fill="#fff" fill-opacity="0.9">128</text>
<text transform="translate(367.71,402) rotate(-90)" text-anchor="end" font-size="8.95" fill="#1a1a1a" stroke="#1a1a1a" stroke-width="0.1">Aguascalientes</text>
<circle cx="375.69" cy="349.2" r="5.4" fill="#1170aa"/>
<text x="375.69" y="350.6" text-anchor="middle" font-size="4.4" fill="#fff" fill-opacity="0.9">128</text>
<text transform="translate(378.89,402) rotate(-90)" text-anchor="end" font-size="8.95" fill="#1a1a1a" stroke="#1a1a1a" stroke-width="0.1">Mexican−American</text>
<circle cx="386.87" cy="348" r="5.4" fill="#fb6a4a"/>
<text x="386.87" y="349.4" text-anchor="middle" font-size="4.4" fill="#fff" fill-opacity="0.9">254</text>
<text transform="translate(390.07,402) rotate(-90)" text-anchor="end" font-size="8.95" fill="#1a1a1a" stroke="#1a1a1a" stroke-width="0.1">Veracruz</text>
<circle cx="398.05" cy="346.8" r="5.4" fill="#74c365"/>
<text x="398.05" y="348.2" text-anchor="middle" font-size="4.4" fill="#fff" fill-opacity="0.9">24</text>
<text transform="translate(401.25,402) rotate(-90)" text-anchor="end" font-size="8.95" fill="#1a1a1a" stroke="#1a1a1a" stroke-width="0.1">Tarahumara</text>
<circle cx="409.23" cy="341.3" r="5.4" fill="#fb6a4a"/>
<text x="409.23" y="342.7" text-anchor="middle" font-size="4.4" fill="#fff" fill-opacity="0.9">236</text>
<text transform="translate(412.43,402) rotate(-90)" text-anchor="end" font-size="8.95" fill="#1a1a1a" stroke="#1a1a1a" stroke-width="0.1">San Luis Potosi</text>
<circle cx="420.41" cy="340" r="5.4" fill="#fb6a4a"/>
<text x="420.41" y="341.4" text-anchor="middle" font-size="4.4" fill="#fff" fill-opacity="0.9">127</text>
<text transform="translate(423.61,402) rotate(-90)" text-anchor="end" font-size="8.95" fill="#1a1a1a" stroke="#1a1a1a" stroke-width="0.1">Mexico</text>
<circle cx="431.59" cy="339.4" r="5.4" fill="#0b0b3e"/>
<text x="431.59" y="340.8" text-anchor="middle" font-size="3.7" fill="#fff" fill-opacity="0.9">2,786</text>
<text transform="translate(434.79,402) rotate(-90)" text-anchor="end" font-size="8.95" fill="#1a1a1a" stroke="#1a1a1a" stroke-width="0.1">MCPS−Mexico City</text>
<circle cx="442.77" cy="336.8" r="5.4" fill="#74c365"/>
<text x="442.77" y="338.2" text-anchor="middle" font-size="4.4" fill="#fff" fill-opacity="0.9">24</text>
<text transform="translate(445.97,402) rotate(-90)" text-anchor="end" font-size="8.95" fill="#1a1a1a" stroke="#1a1a1a" stroke-width="0.1">Trique</text>
<circle cx="453.95" cy="335.7" r="5.4" fill="#fb6a4a"/>
<text x="453.95" y="337.1" text-anchor="middle" font-size="4.4" fill="#fff" fill-opacity="0.9">184</text>
<text transform="translate(457.15,402) rotate(-90)" text-anchor="end" font-size="8.95" fill="#1a1a1a" stroke="#1a1a1a" stroke-width="0.1">Tlaxcala</text>
<circle cx="465.13" cy="334.4" r="5.4" fill="#74c365"/>
<text x="465.13" y="335.8" text-anchor="middle" font-size="4.4" fill="#fff" fill-opacity="0.9">20</text>
<text transform="translate(468.33,402) rotate(-90)" text-anchor="end" font-size="8.95" fill="#1a1a1a" stroke="#1a1a1a" stroke-width="0.1">Totonac</text>
<circle cx="476.31" cy="333.4" r="5.4" fill="#fb6a4a"/>
<text x="476.31" y="334.8" text-anchor="middle" font-size="4.4" fill="#fff" fill-opacity="0.9">227</text>
<text transform="translate(479.51,402) rotate(-90)" text-anchor="end" font-size="8.95" fill="#1a1a1a" stroke="#1a1a1a" stroke-width="0.1">Oaxaca</text>
<circle cx="487.49" cy="333.1" r="5.4" fill="#74c365"/>
<text x="487.49" y="334.5" text-anchor="middle" font-size="4.4" fill="#fff" fill-opacity="0.9">27</text>
<text transform="translate(490.69,402) rotate(-90)" text-anchor="end" font-size="8.95" fill="#1a1a1a" stroke="#1a1a1a" stroke-width="0.1" textLength="43.8" lengthAdjust="spacingAndGlyphs">Nahua_trio</text>
<circle cx="498.67" cy="332.1" r="5.4" fill="#fb6a4a"/>
<text x="498.67" y="333.5" text-anchor="middle" font-size="4.4" fill="#fff" fill-opacity="0.9">135</text>
<text transform="translate(501.87,402) rotate(-90)" text-anchor="end" font-size="8.95" fill="#1a1a1a" stroke="#1a1a1a" stroke-width="0.1">MXB−Mexico City</text>
<circle cx="509.85" cy="331" r="5.4" fill="#fb6a4a"/>
<text x="509.85" y="332.4" text-anchor="middle" font-size="4.4" fill="#fff" fill-opacity="0.9">134</text>
<text transform="translate(513.05,402) rotate(-90)" text-anchor="end" font-size="8.95" fill="#1a1a1a" stroke="#1a1a1a" stroke-width="0.1">Chihuahua</text>
<circle cx="521.03" cy="329.2" r="5.4" fill="#74c365"/>
<text x="521.03" y="330.6" text-anchor="middle" font-size="4.4" fill="#fff" fill-opacity="0.9">21</text>
<text transform="translate(524.23,402) rotate(-90)" text-anchor="end" font-size="8.95" fill="#1a1a1a" stroke="#1a1a1a" stroke-width="0.1">Tzotzil</text>
<circle cx="532.21" cy="328.6" r="5.4" fill="#1170aa"/>
<text x="532.21" y="330" text-anchor="middle" font-size="4.4" fill="#fff" fill-opacity="0.9">208</text>
<text transform="translate(535.41,402) rotate(-90)" text-anchor="end" font-size="8.95" fill="#1a1a1a" stroke="#1a1a1a" stroke-width="0.1">Puerto Rican</text>
<circle cx="543.39" cy="328.3" r="5.4" fill="#fb6a4a"/>
<text x="543.39" y="329.7" text-anchor="middle" font-size="4.4" fill="#fff" fill-opacity="0.9">95</text>
<text transform="translate(546.59,402) rotate(-90)" text-anchor="end" font-size="8.95" fill="#1a1a1a" stroke="#1a1a1a" stroke-width="0.1">Nuevo Leon</text>
<circle cx="554.57" cy="327" r="5.4" fill="#1170aa"/>
<text x="554.57" y="328.4" text-anchor="middle" font-size="3.7" fill="#fff" fill-opacity="0.9">1,008</text>
<text transform="translate(557.77,402) rotate(-90)" text-anchor="end" font-size="8.95" fill="#1a1a1a" stroke="#1a1a1a" stroke-width="0.1">East Asians</text>
<circle cx="565.75" cy="319.1" r="5.4" fill="#74c365"/>
<text x="565.75" y="320.5" text-anchor="middle" font-size="4.4" fill="#fff" fill-opacity="0.9">19</text>
<text transform="translate(568.95,402) rotate(-90)" text-anchor="end" font-size="8.95" fill="#1a1a1a" stroke="#1a1a1a" stroke-width="0.1">Maya</text>
<circle cx="576.93" cy="317.8" r="5.4" fill="#1170aa"/>
<text x="576.93" y="319.2" text-anchor="middle" font-size="4.4" fill="#fff" fill-opacity="0.9">170</text>
<text transform="translate(580.13,402) rotate(-90)" text-anchor="end" font-size="8.95" fill="#1a1a1a" stroke="#1a1a1a" stroke-width="0.1">Peruvian</text>
<circle cx="588.11" cy="316.5" r="5.4" fill="#fb6a4a"/>
<text x="588.11" y="317.9" text-anchor="middle" font-size="4.4" fill="#fff" fill-opacity="0.9">181</text>
<text transform="translate(591.31,402) rotate(-90)" text-anchor="end" font-size="8.95" fill="#1a1a1a" stroke="#1a1a1a" stroke-width="0.1">Quintana Roo</text>
<circle cx="599.29" cy="315.2" r="5.4" fill="#74c365"/>
<text x="599.29" y="316.6" text-anchor="middle" font-size="4.4" fill="#fff" fill-opacity="0.9">37</text>
<text transform="translate(602.49,402) rotate(-90)" text-anchor="end" font-size="8.95" fill="#1a1a1a" stroke="#1a1a1a" stroke-width="0.1">Mazatec</text>
<circle cx="610.47" cy="313.9" r="5.4" fill="#fb6a4a"/>
<text x="610.47" y="315.3" text-anchor="middle" font-size="4.4" fill="#fff" fill-opacity="0.9">235</text>
<text transform="translate(613.67,402) rotate(-90)" text-anchor="end" font-size="8.95" fill="#1a1a1a" stroke="#1a1a1a" stroke-width="0.1">Chiapas</text>
<circle cx="621.65" cy="312" r="5.4" fill="#fb6a4a"/>
<text x="621.65" y="313.4" text-anchor="middle" font-size="4.4" fill="#fff" fill-opacity="0.9">226</text>
<text transform="translate(624.85,402) rotate(-90)" text-anchor="end" font-size="8.95" fill="#1a1a1a" stroke="#1a1a1a" stroke-width="0.1">Tabasco</text>
<circle cx="632.83" cy="308.1" r="5.4" fill="#1170aa"/>
<text x="632.83" y="309.5" text-anchor="middle" font-size="3.7" fill="#fff" fill-opacity="0.9">1,006</text>
<text transform="translate(636.03,402) rotate(-90)" text-anchor="end" font-size="8.95" fill="#1a1a1a" stroke="#1a1a1a" stroke-width="0.1">Europeans</text>
<circle cx="644.01" cy="306.8" r="5.4" fill="#fb6a4a"/>
<text x="644.01" y="308.2" text-anchor="middle" font-size="4.4" fill="#fff" fill-opacity="0.9">218</text>
<text transform="translate(647.21,402) rotate(-90)" text-anchor="end" font-size="8.95" fill="#1a1a1a" stroke="#1a1a1a" stroke-width="0.1">Campeche</text>
<circle cx="655.19" cy="305.5" r="5.4" fill="#fb6a4a"/>
<text x="655.19" y="306.9" text-anchor="middle" font-size="4.4" fill="#fff" fill-opacity="0.9">163</text>
<text transform="translate(658.39,402) rotate(-90)" text-anchor="end" font-size="8.95" fill="#1a1a1a" stroke="#1a1a1a" stroke-width="0.1">Yucatan</text>
<circle cx="666.37" cy="298.4" r="5.4" fill="#1170aa"/>
<text x="666.37" y="299.8" text-anchor="middle" font-size="4.4" fill="#fff" fill-opacity="0.9">188</text>
<text transform="translate(669.57,402) rotate(-90)" text-anchor="end" font-size="8.95" fill="#1a1a1a" stroke="#1a1a1a" stroke-width="0.1">Colombians</text>
<circle cx="677.55" cy="280.5" r="5.4" fill="#74c365"/>
<text x="677.55" y="281.9" text-anchor="middle" font-size="4.4" fill="#fff" fill-opacity="0.9">23</text>
<text transform="translate(680.75,402) rotate(-90)" text-anchor="end" font-size="8.95" fill="#1a1a1a" stroke="#1a1a1a" stroke-width="0.1">Zapotec</text>
<text x="370.6" y="496.6" text-anchor="middle" font-size="10.9" fill="#222">Population</text>
<text x="241" y="518" font-size="10.2" fill="#222">Dataset:</text>
<circle cx="291.3" cy="514.6" r="5.4" fill="#1170aa"/>
<text x="302.3" y="518" font-size="10.2" fill="#222">1KGP</text>
<circle cx="346" cy="514.6" r="5.4" fill="#0b0b3e"/>
<text x="357" y="518" font-size="10.2" fill="#222">MCPS</text>
<circle cx="406.5" cy="514.6" r="5.4" fill="#fb6a4a"/>
<text x="417.3" y="518" font-size="10.2" fill="#222">MXB</text>
<circle cx="460.3" cy="514.6" r="5.4" fill="#74c365"/>
<text x="471" y="518" font-size="10.2" fill="#222">NMDP</text>
</svg></body></html>
